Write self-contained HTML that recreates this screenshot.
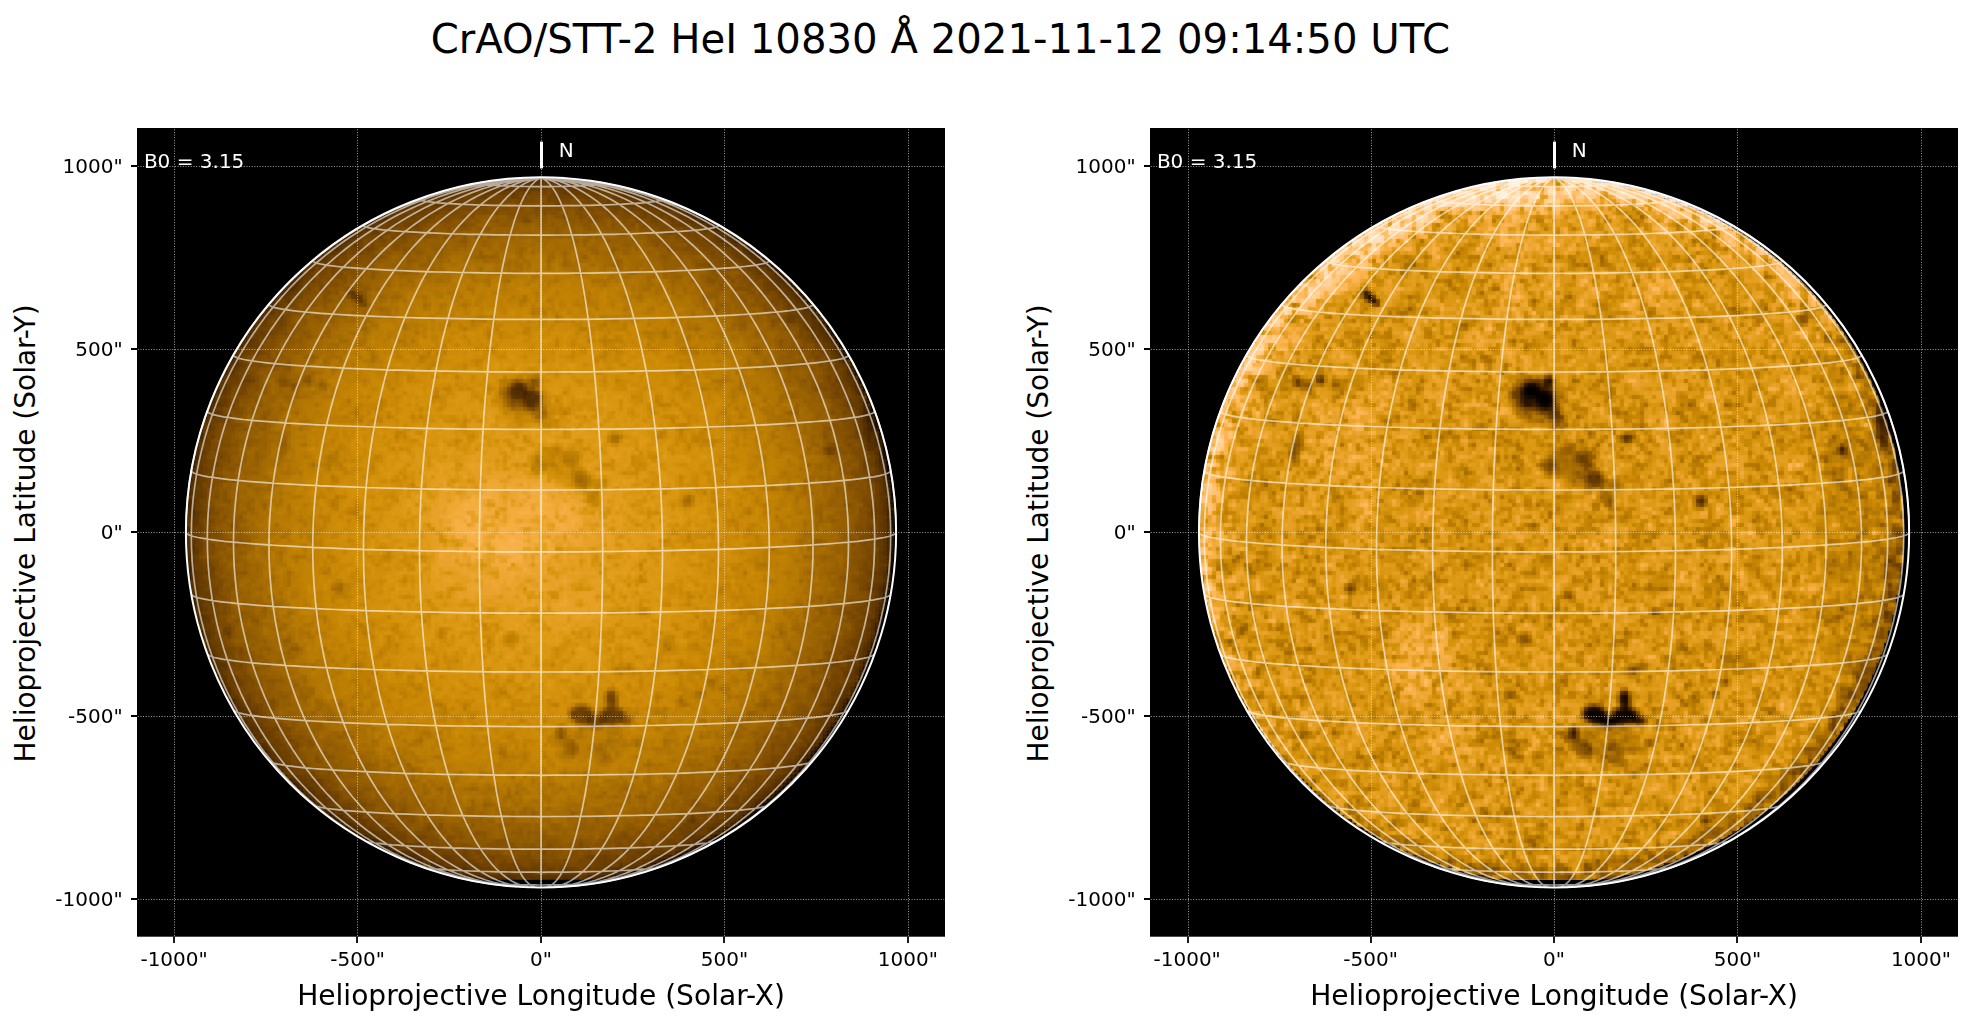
<!DOCTYPE html><html><head><meta charset="utf-8"><title>CrAO/STT-2 HeI 10830</title><style>html,body{margin:0;padding:0;background:#fff}svg{display:block}text{font-family:"DejaVu Sans","Liberation Sans",sans-serif}</style></head><body>
<svg width="1971" height="1026" viewBox="0 0 1971 1026">
<defs>
<radialGradient id="gl" gradientUnits="userSpaceOnUse" cx="538.0" cy="530.4" r="352.5"><stop offset="0.0000" stop-color="#a3a3a3"/><stop offset="0.2000" stop-color="#9e9e9e"/><stop offset="0.4000" stop-color="#969696"/><stop offset="0.5500" stop-color="#8d8d8d"/><stop offset="0.6800" stop-color="#808080"/><stop offset="0.7600" stop-color="#747474"/><stop offset="0.8440" stop-color="#636363"/><stop offset="0.8870" stop-color="#595959"/><stop offset="0.9230" stop-color="#4f4f4f"/><stop offset="0.9570" stop-color="#434343"/><stop offset="0.9740" stop-color="#3b3b3b"/><stop offset="0.9900" stop-color="#303030"/><stop offset="1.0000" stop-color="#262626"/></radialGradient>
<filter id="b1" x="-5%" y="-5%" width="110%" height="110%"><feGaussianBlur stdDeviation="2.5"/></filter>
<filter id="b2" x="-5%" y="-5%" width="110%" height="110%"><feGaussianBlur stdDeviation="2.2"/></filter>
<filter id="b3" x="-5%" y="-5%" width="110%" height="110%"><feGaussianBlur stdDeviation="9"/></filter>
<filter id="nz0" x="0" y="0" width="100%" height="100%" color-interpolation-filters="sRGB"><feTurbulence type="fractalNoise" baseFrequency="0.130" numOctaves="2" seed="7"/><feColorMatrix type="matrix" values="1 0 0 0 0  0 1 0 0 0  0 0 1 0 0  0 0 0 0 1" result="n1"/><feTurbulence type="fractalNoise" baseFrequency="0.04" numOctaves="2" seed="18"/><feColorMatrix type="matrix" values="1 0 0 0 0  0 1 0 0 0  0 0 1 0 0  0 0 0 0 1" result="n2"/><feComposite in="n1" in2="n2" operator="arithmetic" k1="0" k2="0.8" k3="0.5" k4="-0.15" result="n"/><feColorMatrix in="n" type="matrix" values="0 0 0 0 0  0 0 0 0 0  0 0 0 0 0  -0.45 0 0 0 0.225" result="dk"/><feColorMatrix in="n" type="matrix" values="0 0 0 0 1  0 0 0 0 1  0 0 0 0 1  0.20 0 0 0 -0.100" result="br"/><feMerge><feMergeNode in="dk"/><feMergeNode in="br"/></feMerge></filter>
<filter id="px0" filterUnits="userSpaceOnUse" x="179" y="171" width="717" height="717" color-interpolation-filters="sRGB"><feFlood x="180" y="172" width="1" height="1" flood-color="#000" result="dot"/><feComposite in="dot" in2="dot" operator="over" x="179" y="171" width="4" height="4" result="cell"/><feTile in="cell" result="grid"/><feComposite in="SourceGraphic" in2="grid" operator="in" result="samp"/><feMorphology in="samp" operator="dilate" radius="1" result="A"/><feOffset in="A" dx="1" dy="0" result="A1"/><feMerge result="B"><feMergeNode in="A1"/><feMergeNode in="A"/></feMerge><feOffset in="B" dx="0" dy="1" result="B1"/><feMerge result="C"><feMergeNode in="B1"/><feMergeNode in="B"/></feMerge><feGaussianBlur in="C" stdDeviation="0.8" result="D"/><feComposite in="C" in2="D" operator="arithmetic" k1="0" k2="0.55" k3="0.45" k4="0"/><feComponentTransfer><feFuncR type="table" tableValues="0.000 0.078 0.138 0.192 0.242 0.290 0.337 0.382 0.425 0.468 0.510 0.551 0.591 0.631 0.670 0.709 0.747 0.785 0.822 0.859 0.896 0.932 0.968 1.000 1.000 1.000 1.000 1.000 1.000 1.000 1.000 1.000 1.000"/><feFuncG type="table" tableValues="0.000 0.031 0.062 0.094 0.125 0.156 0.188 0.219 0.250 0.281 0.312 0.344 0.375 0.406 0.438 0.469 0.500 0.531 0.562 0.594 0.625 0.656 0.688 0.719 0.750 0.781 0.812 0.844 0.875 0.906 0.938 0.969 1.000"/><feFuncB type="table" tableValues="0.000 0.001 0.002 0.003 0.004 0.005 0.006 0.006 0.007 0.008 0.009 0.010 0.011 0.012 0.013 0.014 0.015 0.017 0.040 0.070 0.132 0.198 0.271 0.344 0.417 0.490 0.562 0.635 0.708 0.781 0.854 0.927 1.000"/></feComponentTransfer></filter>
<clipPath id="dc0"><circle cx="538.0" cy="530.4" r="356.5"/></clipPath>
<clipPath id="lc0"><circle cx="541.0" cy="532.4" r="355.4"/></clipPath>
<clipPath id="bc0"><rect x="179" y="171" width="717" height="708.2"/></clipPath>
<filter id="nz1" x="0" y="0" width="100%" height="100%" color-interpolation-filters="sRGB"><feTurbulence type="fractalNoise" baseFrequency="0.130" numOctaves="2" seed="7"/><feColorMatrix type="matrix" values="1 0 0 0 0  0 1 0 0 0  0 0 1 0 0  0 0 0 0 1" result="n1"/><feTurbulence type="fractalNoise" baseFrequency="0.04" numOctaves="2" seed="18"/><feColorMatrix type="matrix" values="1 0 0 0 0  0 1 0 0 0  0 0 1 0 0  0 0 0 0 1" result="n2"/><feComposite in="n1" in2="n2" operator="arithmetic" k1="0" k2="0.8" k3="0.5" k4="-0.15" result="n"/><feColorMatrix in="n" type="matrix" values="0 0 0 0 0  0 0 0 0 0  0 0 0 0 0  -1.10 0 0 0 0.550" result="dk"/><feColorMatrix in="n" type="matrix" values="0 0 0 0 1  0 0 0 0 1  0 0 0 0 1  0.88 0 0 0 -0.440" result="br"/><feMerge><feMergeNode in="dk"/><feMergeNode in="br"/></feMerge></filter>
<filter id="px1" filterUnits="userSpaceOnUse" x="1192" y="171" width="717" height="717" color-interpolation-filters="sRGB"><feFlood x="1193" y="172" width="1" height="1" flood-color="#000" result="dot"/><feComposite in="dot" in2="dot" operator="over" x="1192" y="171" width="4" height="4" result="cell"/><feTile in="cell" result="grid"/><feComposite in="SourceGraphic" in2="grid" operator="in" result="samp"/><feMorphology in="samp" operator="dilate" radius="1" result="A"/><feOffset in="A" dx="1" dy="0" result="A1"/><feMerge result="B"><feMergeNode in="A1"/><feMergeNode in="A"/></feMerge><feOffset in="B" dx="0" dy="1" result="B1"/><feMerge result="C"><feMergeNode in="B1"/><feMergeNode in="B"/></feMerge><feGaussianBlur in="C" stdDeviation="0.8" result="D"/><feComposite in="C" in2="D" operator="arithmetic" k1="0" k2="0.55" k3="0.45" k4="0"/><feComponentTransfer><feFuncR type="table" tableValues="0.000 0.078 0.138 0.192 0.242 0.290 0.337 0.382 0.425 0.468 0.510 0.551 0.591 0.631 0.670 0.709 0.747 0.785 0.822 0.859 0.896 0.932 0.968 1.000 1.000 1.000 1.000 1.000 1.000 1.000 1.000 1.000 1.000"/><feFuncG type="table" tableValues="0.000 0.031 0.062 0.094 0.125 0.156 0.188 0.219 0.250 0.281 0.312 0.344 0.375 0.406 0.438 0.469 0.500 0.531 0.562 0.594 0.625 0.656 0.688 0.719 0.750 0.781 0.812 0.844 0.875 0.906 0.938 0.969 1.000"/><feFuncB type="table" tableValues="0.000 0.001 0.002 0.003 0.004 0.005 0.006 0.006 0.007 0.008 0.009 0.010 0.011 0.012 0.013 0.014 0.015 0.017 0.040 0.070 0.132 0.198 0.271 0.344 0.417 0.490 0.562 0.635 0.708 0.781 0.854 0.927 1.000"/></feComponentTransfer></filter>
<filter id="nzl" x="0" y="0" width="100%" height="100%" color-interpolation-filters="sRGB"><feTurbulence type="fractalNoise" baseFrequency="0.11" numOctaves="1" seed="23"/><feColorMatrix type="matrix" values="1 0 0 0 0  0 1 0 0 0  0 0 1 0 0  0 0 0 0 1" result="n"/><feColorMatrix in="n" type="matrix" values="0 0 0 0 0  0 0 0 0 0  0 0 0 0 0  -1.8 0 0 0 0.85" result="dk"/><feColorMatrix in="n" type="matrix" values="0 0 0 0 1  0 0 0 0 1  0 0 0 0 1  1.4 0 0 0 -0.7" result="br"/><feMerge><feMergeNode in="dk"/><feMergeNode in="br"/></feMerge></filter>
<radialGradient id="lmg" gradientUnits="userSpaceOnUse" cx="1551.0" cy="530.4" r="352.5"><stop offset="0" stop-color="#000"/><stop offset="0.7" stop-color="#000"/><stop offset="0.9" stop-color="#444"/><stop offset="1" stop-color="#ccc"/></radialGradient>
<mask id="lm" maskUnits="userSpaceOnUse" x="1192" y="171" width="717" height="717"><rect x="1192" y="171" width="717" height="717" fill="url(#lmg)"/></mask>
<mask id="crb" maskUnits="userSpaceOnUse" x="1192" y="171" width="717" height="717"><rect x="1192" y="171" width="717" height="717" fill="#fff"/><circle cx="1558.0" cy="544.4" r="350.5" fill="#000"/></mask>
<mask id="crb2" maskUnits="userSpaceOnUse" x="1192" y="171" width="717" height="717"><rect x="1192" y="171" width="717" height="717" fill="#fff"/><circle cx="1563.0" cy="560.4" r="347.5" fill="#000"/></mask>
<mask id="crd" maskUnits="userSpaceOnUse" x="1192" y="171" width="717" height="717"><rect x="1192" y="171" width="717" height="717" fill="#fff"/><circle cx="1541.0" cy="519.4" r="350.5" fill="#000"/></mask>
<filter id="b4" x="-5%" y="-5%" width="110%" height="110%"><feGaussianBlur stdDeviation="6"/></filter>
<filter id="b5" x="-5%" y="-5%" width="110%" height="110%"><feGaussianBlur stdDeviation="14"/></filter>
<clipPath id="dc1"><circle cx="1551.0" cy="530.4" r="353.5"/></clipPath>
<clipPath id="lc1"><circle cx="1554.0" cy="532.4" r="355.4"/></clipPath>
<clipPath id="bc1"><rect x="1192" y="171" width="717" height="708.2"/></clipPath>
</defs>
<rect width="1971" height="1026" fill="#fff"/>
<text x="940.3" y="52.8" font-size="40.2" text-anchor="middle" fill="#000">CrAO/STT-2 HeI 10830 Å 2021-11-12 09:14:50 UTC</text>
<g id="ax0">
<rect x="137.0" y="128.0" width="808.0" height="808.7" fill="#000"/>
<clipPath id="clip0"><rect x="137.0" y="128.0" width="808.0" height="808.7"/></clipPath>
<g clip-path="url(#bc0)"><g clip-path="url(#lc0)"><g clip-path="url(#dc0)"><g filter="url(#px0)">
<circle cx="538.0" cy="530.4" r="352.5" fill="url(#gl)" filter="url(#b1)"/>
<g filter="url(#b3)"><ellipse cx="515.0" cy="520.0" rx="75.0" ry="45.0" transform="rotate(0 515.0 520.0)" fill="#fff" fill-opacity="0.10"/><ellipse cx="480.0" cy="560.0" rx="50.0" ry="40.0" transform="rotate(0 480.0 560.0)" fill="#fff" fill-opacity="0.08"/><ellipse cx="450.0" cy="500.0" rx="40.0" ry="30.0" transform="rotate(0 450.0 500.0)" fill="#fff" fill-opacity="0.06"/><ellipse cx="560.0" cy="600.0" rx="45.0" ry="25.0" transform="rotate(0 560.0 600.0)" fill="#fff" fill-opacity="0.05"/></g>
<g filter="url(#b2)"><ellipse cx="518.0" cy="390.0" rx="9.5" ry="8.5" transform="rotate(0 518.0 390.0)" fill="#000" fill-opacity="0.56"/><ellipse cx="531.0" cy="399.0" rx="9.5" ry="10.0" transform="rotate(0 531.0 399.0)" fill="#000" fill-opacity="0.56"/><ellipse cx="535.0" cy="381.0" rx="4.5" ry="6.0" transform="rotate(0 535.0 381.0)" fill="#000" fill-opacity="0.40"/><ellipse cx="524.0" cy="396.0" rx="19.0" ry="15.0" transform="rotate(30 524.0 396.0)" fill="#000" fill-opacity="0.24"/><ellipse cx="522.0" cy="400.0" rx="28.0" ry="24.0" transform="rotate(30 522.0 400.0)" fill="#000" fill-opacity="0.11"/><ellipse cx="545.0" cy="420.0" rx="8.0" ry="12.0" transform="rotate(-20 545.0 420.0)" fill="#000" fill-opacity="0.13"/><ellipse cx="512.0" cy="402.0" rx="9.0" ry="7.0" transform="rotate(0 512.0 402.0)" fill="#000" fill-opacity="0.24"/><ellipse cx="538.0" cy="412.0" rx="6.0" ry="8.0" transform="rotate(0 538.0 412.0)" fill="#000" fill-opacity="0.20"/><ellipse cx="505.0" cy="392.0" rx="6.0" ry="6.0" transform="rotate(0 505.0 392.0)" fill="#000" fill-opacity="0.16"/><ellipse cx="613.4" cy="438.3" rx="6.0" ry="5.0" transform="rotate(0 613.4 438.3)" fill="#000" fill-opacity="0.34"/><ellipse cx="571.0" cy="457.0" rx="10.0" ry="9.0" transform="rotate(0 571.0 457.0)" fill="#000" fill-opacity="0.18"/><ellipse cx="582.0" cy="479.0" rx="11.0" ry="8.0" transform="rotate(20 582.0 479.0)" fill="#000" fill-opacity="0.20"/><ellipse cx="536.0" cy="466.0" rx="6.0" ry="11.0" transform="rotate(0 536.0 466.0)" fill="#000" fill-opacity="0.16"/><ellipse cx="593.0" cy="496.0" rx="8.0" ry="7.0" transform="rotate(0 593.0 496.0)" fill="#000" fill-opacity="0.16"/><ellipse cx="562.0" cy="468.0" rx="32.0" ry="15.0" transform="rotate(35 562.0 468.0)" fill="#000" fill-opacity="0.11"/><ellipse cx="600.0" cy="483.0" rx="8.0" ry="5.0" transform="rotate(0 600.0 483.0)" fill="#000" fill-opacity="0.16"/><ellipse cx="556.0" cy="448.0" rx="6.0" ry="5.0" transform="rotate(0 556.0 448.0)" fill="#000" fill-opacity="0.12"/><ellipse cx="687.0" cy="501.0" rx="6.0" ry="6.5" transform="rotate(0 687.0 501.0)" fill="#000" fill-opacity="0.30"/><ellipse cx="520.6" cy="301.8" rx="4.0" ry="4.0" transform="rotate(0 520.6 301.8)" fill="#000" fill-opacity="0.16"/><ellipse cx="475.5" cy="360.5" rx="7.0" ry="4.0" transform="rotate(0 475.5 360.5)" fill="#000" fill-opacity="0.12"/><ellipse cx="658.0" cy="435.0" rx="4.0" ry="5.0" transform="rotate(0 658.0 435.0)" fill="#000" fill-opacity="0.12"/><ellipse cx="653.0" cy="482.0" rx="4.0" ry="4.0" transform="rotate(0 653.0 482.0)" fill="#000" fill-opacity="0.12"/><ellipse cx="357.4" cy="297.7" rx="12.0" ry="4.0" transform="rotate(40 357.4 297.7)" fill="#000" fill-opacity="0.50"/><ellipse cx="285.0" cy="382.3" rx="5.0" ry="4.0" transform="rotate(0 285.0 382.3)" fill="#000" fill-opacity="0.28"/><ellipse cx="307.0" cy="379.6" rx="5.0" ry="5.0" transform="rotate(0 307.0 379.6)" fill="#000" fill-opacity="0.32"/><ellipse cx="294.6" cy="386.0" rx="5.0" ry="3.5" transform="rotate(0 294.6 386.0)" fill="#000" fill-opacity="0.28"/><ellipse cx="322.0" cy="385.0" rx="5.0" ry="3.0" transform="rotate(0 322.0 385.0)" fill="#000" fill-opacity="0.24"/><ellipse cx="245.5" cy="379.6" rx="5.0" ry="5.0" transform="rotate(0 245.5 379.6)" fill="#000" fill-opacity="0.16"/><ellipse cx="281.0" cy="318.0" rx="5.0" ry="5.0" transform="rotate(0 281.0 318.0)" fill="#000" fill-opacity="0.12"/><ellipse cx="283.0" cy="447.0" rx="4.0" ry="20.0" transform="rotate(12 283.0 447.0)" fill="#000" fill-opacity="0.18"/><ellipse cx="581.5" cy="714.0" rx="13.0" ry="9.5" transform="rotate(8 581.5 714.0)" fill="#000" fill-opacity="0.56"/><ellipse cx="611.5" cy="715.0" rx="13.0" ry="9.0" transform="rotate(0 611.5 715.0)" fill="#000" fill-opacity="0.56"/><ellipse cx="611.0" cy="698.0" rx="6.0" ry="9.0" transform="rotate(0 611.0 698.0)" fill="#000" fill-opacity="0.52"/><ellipse cx="596.0" cy="721.0" rx="11.0" ry="6.0" transform="rotate(0 596.0 721.0)" fill="#000" fill-opacity="0.48"/><ellipse cx="626.0" cy="720.0" rx="7.0" ry="5.0" transform="rotate(0 626.0 720.0)" fill="#000" fill-opacity="0.36"/><ellipse cx="560.0" cy="733.0" rx="5.0" ry="8.0" transform="rotate(0 560.0 733.0)" fill="#000" fill-opacity="0.34"/><ellipse cx="570.0" cy="749.0" rx="9.0" ry="8.0" transform="rotate(0 570.0 749.0)" fill="#000" fill-opacity="0.18"/><ellipse cx="598.0" cy="747.0" rx="6.0" ry="4.0" transform="rotate(0 598.0 747.0)" fill="#000" fill-opacity="0.16"/><ellipse cx="636.0" cy="742.0" rx="5.0" ry="3.0" transform="rotate(0 636.0 742.0)" fill="#000" fill-opacity="0.16"/><ellipse cx="604.0" cy="760.0" rx="8.0" ry="5.0" transform="rotate(0 604.0 760.0)" fill="#000" fill-opacity="0.14"/><ellipse cx="595.0" cy="740.0" rx="32.0" ry="18.0" transform="rotate(0 595.0 740.0)" fill="#000" fill-opacity="0.08"/><ellipse cx="691.5" cy="819.0" rx="4.0" ry="4.5" transform="rotate(0 691.5 819.0)" fill="#000" fill-opacity="0.30"/><ellipse cx="441.4" cy="633.7" rx="5.0" ry="4.0" transform="rotate(0 441.4 633.7)" fill="#000" fill-opacity="0.20"/><ellipse cx="511.0" cy="639.0" rx="8.0" ry="6.0" transform="rotate(0 511.0 639.0)" fill="#000" fill-opacity="0.20"/><ellipse cx="554.7" cy="594.0" rx="5.0" ry="5.0" transform="rotate(0 554.7 594.0)" fill="#000" fill-opacity="0.14"/><ellipse cx="642.0" cy="611.9" rx="5.0" ry="3.0" transform="rotate(0 642.0 611.9)" fill="#000" fill-opacity="0.28"/><ellipse cx="669.0" cy="644.6" rx="6.0" ry="6.0" transform="rotate(0 669.0 644.6)" fill="#000" fill-opacity="0.14"/><ellipse cx="694.0" cy="646.0" rx="5.0" ry="5.0" transform="rotate(0 694.0 646.0)" fill="#000" fill-opacity="0.14"/><ellipse cx="623.0" cy="668.0" rx="12.0" ry="4.0" transform="rotate(0 623.0 668.0)" fill="#000" fill-opacity="0.16"/><ellipse cx="711.6" cy="681.5" rx="4.0" ry="4.0" transform="rotate(0 711.6 681.5)" fill="#000" fill-opacity="0.28"/><ellipse cx="700.7" cy="693.7" rx="4.0" ry="4.0" transform="rotate(0 700.7 693.7)" fill="#000" fill-opacity="0.28"/><ellipse cx="680.0" cy="702.0" rx="5.0" ry="4.0" transform="rotate(0 680.0 702.0)" fill="#000" fill-opacity="0.14"/><ellipse cx="500.0" cy="749.7" rx="5.0" ry="5.0" transform="rotate(0 500.0 749.7)" fill="#000" fill-opacity="0.16"/><ellipse cx="524.7" cy="755.0" rx="5.0" ry="5.0" transform="rotate(0 524.7 755.0)" fill="#000" fill-opacity="0.14"/><ellipse cx="497.0" cy="694.0" rx="6.0" ry="5.0" transform="rotate(0 497.0 694.0)" fill="#000" fill-opacity="0.12"/><ellipse cx="636.6" cy="743.0" rx="6.0" ry="4.0" transform="rotate(0 636.6 743.0)" fill="#000" fill-opacity="0.12"/><ellipse cx="829.2" cy="450.0" rx="4.5" ry="5.5" transform="rotate(0 829.2 450.0)" fill="#000" fill-opacity="0.36"/><ellipse cx="812.8" cy="337.0" rx="5.0" ry="5.0" transform="rotate(0 812.8 337.0)" fill="#000" fill-opacity="0.16"/><ellipse cx="868.0" cy="428.0" rx="6.0" ry="22.0" transform="rotate(-8 868.0 428.0)" fill="#000" fill-opacity="0.28"/><ellipse cx="228.0" cy="630.0" rx="5.0" ry="6.0" transform="rotate(0 228.0 630.0)" fill="#000" fill-opacity="0.20"/><ellipse cx="790.0" cy="318.0" rx="6.0" ry="5.0" transform="rotate(0 790.0 318.0)" fill="#000" fill-opacity="0.16"/><ellipse cx="337.5" cy="587.7" rx="6.0" ry="5.0" transform="rotate(0 337.5 587.7)" fill="#000" fill-opacity="0.24"/><ellipse cx="296.0" cy="649.0" rx="6.0" ry="4.0" transform="rotate(0 296.0 649.0)" fill="#000" fill-opacity="0.16"/><ellipse cx="469.0" cy="811.0" rx="5.0" ry="4.0" transform="rotate(0 469.0 811.0)" fill="#000" fill-opacity="0.12"/><ellipse cx="213.0" cy="566.0" rx="5.0" ry="5.0" transform="rotate(0 213.0 566.0)" fill="#000" fill-opacity="0.12"/><ellipse cx="674.0" cy="276.0" rx="5.0" ry="4.0" transform="rotate(0 674.0 276.0)" fill="#000" fill-opacity="0.10"/><ellipse cx="716.0" cy="309.0" rx="5.0" ry="4.0" transform="rotate(0 716.0 309.0)" fill="#000" fill-opacity="0.10"/></g>
<g clip-path="url(#dc0)"><rect x="179" y="171" width="717" height="717" fill="#888" filter="url(#nz0)"/></g>
</g></g></g></g>
<path d="M174.50,935.9V128.8M137.8,899.50H944.2M357.50,935.9V128.8M137.8,716.50H944.2M541.50,935.9V128.8M137.8,532.50H944.2M724.50,935.9V128.8M137.8,349.50H944.2M908.50,935.9V128.8M137.8,166.50H944.2" stroke="#fff" stroke-opacity="0.62" stroke-width="1" stroke-dasharray="1 1.65" fill="none"/>
<path d="M185.9,532.4L186.1,520.0L186.8,507.7L187.8,495.3L189.4,483.1L191.3,470.8L193.7,458.7L196.4,446.6L199.7,434.7L203.3,422.8L207.3,411.1L211.8,399.6L216.6,388.2L221.8,377.0L227.5,365.9L233.5,355.1L239.9,344.5L246.6,334.1L253.7,324.0L261.2,314.1L269.0,304.5L277.1,295.2L285.6,286.1L294.3,277.3L303.4,268.9L312.7,260.8L322.4,253.0L332.3,245.6L342.4,238.5L352.8,231.7L363.4,225.3L374.3,219.3L385.3,213.7L396.6,208.5L408.0,203.7L419.5,199.2L431.3,195.2L443.1,191.6L455.1,188.4L467.2,185.6L479.3,183.2L491.6,181.3L503.9,179.8L516.2,178.7L528.6,178.1L541.0,177.8M432.9,870.7L421.4,866.7L410.0,862.4L398.8,857.7L387.7,852.6L376.8,847.1L366.1,841.2L355.7,834.9L345.4,828.2L335.4,821.2L325.7,813.9L316.2,806.2L307.0,798.2L298.1,789.8L289.4,781.1L281.1,772.2L273.1,762.9L265.4,753.4L258.1,743.5L251.1,733.5L244.4,723.2L238.1,712.6L232.2,701.8L226.7,690.9L221.5,679.7L216.8,668.4L212.4,656.9L208.4,645.2L204.8,633.4L201.7,621.5L198.9,609.4L196.6,597.3L194.7,585.1L193.2,572.8L192.1,560.5L191.5,548.2L191.3,535.8L191.5,523.4L192.1,511.0L193.2,498.7L194.7,486.4L196.6,474.2L198.9,462.0L201.7,449.9L204.8,437.9L208.4,426.1L212.4,414.3L216.8,402.7L221.5,391.3L226.7,380.0L232.2,368.9L238.1,358.1L244.4,347.4L251.1,336.9L258.1,326.7L265.4,316.8L273.1,307.1L281.1,297.7L289.4,288.5L298.1,279.7L307.0,271.2L316.2,263.0L325.7,255.1L335.4,247.5L345.4,240.3L355.7,233.5L366.1,227.0L376.8,220.9L387.7,215.2L398.8,209.9L410.0,204.9L421.4,200.4L432.9,196.2L444.6,192.5L456.4,189.2L468.3,186.3L480.3,183.8L492.3,181.8L504.4,180.1L516.6,178.9L528.8,178.2L541.0,177.8M483.1,882.7L471.6,880.6L460.3,878.0L449.0,875.1L437.9,871.7L426.9,867.9L416.0,863.6L405.3,859.0L394.7,854.0L384.3,848.6L374.2,842.8L364.2,836.6L354.4,830.1L344.9,823.2L335.6,815.9L326.5,808.3L317.7,800.4L309.2,792.1L301.0,783.5L293.0,774.6L285.4,765.4L278.1,756.0L271.0,746.2L264.4,736.2L258.0,725.9L252.0,715.5L246.4,704.8L241.1,693.8L236.2,682.7L231.6,671.4L227.4,659.9L223.6,648.3L220.2,636.5L217.2,624.7L214.6,612.6L212.4,600.5L210.6,588.4L209.1,576.1L208.1,563.8L207.5,551.4L207.3,539.1L207.5,526.7L208.1,514.3L209.1,502.0L210.6,489.7L212.4,477.4L214.6,465.2L217.2,453.1L220.2,441.1L223.6,429.2L227.4,417.4L231.6,405.8L236.2,394.3L241.1,383.0L246.4,371.8L252.0,360.9L258.0,350.2L264.4,339.7L271.0,329.4L278.1,319.4L285.4,309.6L293.0,300.1L301.0,290.9L309.2,282.0L317.7,273.4L326.5,265.1L335.6,257.1L344.9,249.5L354.4,242.2L364.2,235.2L374.2,228.7L384.3,222.5L394.7,216.6L405.3,211.2L416.0,206.2L426.9,201.5L437.9,197.3L449.0,193.4L460.3,190.0L471.6,187.0L483.1,184.4L494.6,182.2L506.1,180.5L517.7,179.2L529.4,178.3L541.0,177.8M498.2,884.9L487.6,883.3L477.1,881.2L466.6,878.8L456.2,875.9L446.0,872.6L435.8,868.9L425.8,864.8L415.9,860.3L406.2,855.4L396.6,850.0L387.2,844.3L378.0,838.3L369.0,831.8L360.2,825.0L351.7,817.8L343.3,810.3L335.2,802.4L327.4,794.2L319.8,785.7L312.5,776.9L305.4,767.8L298.7,758.4L292.2,748.7L286.0,738.8L280.2,728.6L274.7,718.1L269.5,707.5L264.6,696.6L260.1,685.5L255.9,674.3L252.0,662.8L248.5,651.2L245.4,639.5L242.6,627.6L240.2,615.7L238.1,603.6L236.5,591.4L235.2,579.2L234.2,566.9L233.7,554.5L233.5,542.2L233.7,529.8L234.2,517.4L235.2,505.0L236.5,492.7L238.1,480.4L240.2,468.2L242.6,456.1L245.4,444.0L248.5,432.1L252.0,420.3L255.9,408.6L260.1,397.1L264.6,385.7L269.5,374.6L274.7,363.6L280.2,352.8L286.0,342.2L292.2,331.9L298.7,321.8L305.4,312.0L312.5,302.4L319.8,293.1L327.4,284.1L335.2,275.4L343.3,267.1L351.7,259.0L360.2,251.3L369.0,243.9L378.0,236.9L387.2,230.2L396.6,223.9L406.2,218.0L415.9,212.5L425.8,207.3L435.8,202.6L446.0,198.2L456.2,194.3L466.6,190.7L477.1,187.6L487.6,184.9L498.2,182.6L508.9,180.8L519.5,179.4L530.3,178.4L541.0,177.8M512.6,886.3L503.1,885.3L493.8,883.8L484.4,881.8L475.2,879.5L466.0,876.7L456.9,873.5L448.0,869.9L439.1,865.8L430.4,861.4L421.8,856.6L413.3,851.3L405.0,845.7L396.9,839.7L388.9,833.4L381.1,826.6L373.5,819.5L366.1,812.1L359.0,804.3L352.0,796.2L345.3,787.7L338.8,779.0L332.6,769.9L326.6,760.6L320.9,751.0L315.5,741.1L310.3,730.9L305.4,720.5L300.8,709.9L296.5,699.1L292.5,688.1L288.8,676.9L285.4,665.5L282.3,653.9L279.5,642.2L277.1,630.3L274.9,618.4L273.1,606.3L271.6,594.2L270.5,581.9L269.6,569.6L269.1,557.3L269.0,544.9L269.1,532.6L269.6,520.2L270.5,507.8L271.6,495.5L273.1,483.2L274.9,471.0L277.1,458.8L279.5,446.7L282.3,434.8L285.4,422.9L288.8,411.2L292.5,399.6L296.5,388.2L300.8,377.0L305.4,366.0L310.3,355.1L315.5,344.5L320.9,334.1L326.6,324.0L332.6,314.1L338.8,304.5L345.3,295.1L352.0,286.1L359.0,277.3L366.1,268.9L373.5,260.7L381.1,252.9L388.9,245.5L396.9,238.4L405.0,231.6L413.3,225.2L421.8,219.2L430.4,213.6L439.1,208.4L448.0,203.5L456.9,199.1L466.0,195.0L475.2,191.4L484.4,188.2L493.8,185.4L503.1,183.0L512.6,181.1L522.0,179.6L531.5,178.5L541.0,177.8M517.1,886.6L509.2,885.6L501.4,884.2L493.5,882.3L485.8,880.0L478.1,877.3L470.5,874.2L462.9,870.7L455.5,866.7L448.2,862.4L440.9,857.6L433.8,852.5L426.9,846.9L420.0,841.0L413.4,834.7L406.8,828.0L400.5,821.0L394.3,813.6L388.3,805.9L382.4,797.8L376.8,789.5L371.4,780.8L366.1,771.8L361.1,762.5L356.3,752.9L351.8,743.1L347.4,733.0L343.3,722.6L339.5,712.1L335.8,701.3L332.5,690.3L329.4,679.1L326.5,667.7L323.9,656.2L321.6,644.5L319.5,632.7L317.7,620.7L316.2,608.7L315.0,596.5L314.0,584.3L313.3,572.0L312.9,559.7L312.7,547.3L312.9,535.0L313.3,522.6L314.0,510.2L315.0,497.9L316.2,485.6L317.7,473.3L319.5,461.1L321.6,449.0L323.9,437.0L326.5,425.2L329.4,413.4L332.5,401.8L335.8,390.4L339.5,379.1L343.3,368.1L347.4,357.2L351.8,346.5L356.3,336.1L361.1,325.9L366.1,315.9L371.4,306.3L376.8,296.9L382.4,287.7L388.3,278.9L394.3,270.4L400.5,262.2L406.8,254.3L413.4,246.8L420.0,239.6L426.9,232.8L433.8,226.4L440.9,220.3L448.2,214.6L455.5,209.3L462.9,204.3L470.5,199.8L478.1,195.7L485.8,192.0L493.5,188.7L501.4,185.8L509.2,183.4L517.1,181.3L525.1,179.7L533.0,178.6L541.0,177.8M528.6,887.3L522.4,886.8L516.3,885.9L510.2,884.5L504.1,882.7L498.0,880.5L492.1,877.9L486.1,874.8L480.3,871.4L474.5,867.5L468.8,863.2L463.2,858.5L457.6,853.4L452.2,847.9L446.9,842.0L441.7,835.8L436.6,829.2L431.7,822.2L426.9,814.9L422.2,807.2L417.7,799.2L413.3,790.9L409.1,782.2L405.0,773.3L401.1,764.0L397.4,754.5L393.8,744.7L390.4,734.6L387.2,724.3L384.2,713.8L381.4,703.0L378.8,692.1L376.4,680.9L374.2,669.5L372.1,658.0L370.3,646.4L368.7,634.6L367.3,622.6L366.1,610.6L365.2,598.5L364.4,586.3L363.9,574.0L363.6,561.7L363.5,549.3L363.6,536.9L363.9,524.5L364.4,512.1L365.2,499.8L366.1,487.5L367.3,475.2L368.7,463.0L370.3,450.9L372.1,438.9L374.2,427.0L376.4,415.2L378.8,403.6L381.4,392.2L384.2,380.9L387.2,369.8L390.4,358.8L393.8,348.1L397.4,337.7L401.1,327.4L405.0,317.4L409.1,307.7L413.3,298.3L417.7,289.1L422.2,280.2L426.9,271.7L431.7,263.4L436.6,255.5L441.7,247.9L446.9,240.7L452.2,233.8L457.6,227.3L463.2,221.1L468.8,215.4L474.5,210.0L480.3,205.0L486.1,200.4L492.1,196.2L498.0,192.5L504.1,189.1L510.2,186.2L516.3,183.6L522.4,181.5L528.6,179.9L534.8,178.6L541.0,177.8M532.5,887.4L528.3,886.9L524.1,886.1L519.9,884.8L515.7,883.0L511.6,880.9L507.5,878.3L503.5,875.3L499.5,871.9L495.5,868.0L491.6,863.8L487.8,859.1L484.0,854.1L480.3,848.6L476.6,842.8L473.1,836.6L469.6,830.0L466.2,823.1L462.9,815.8L459.7,808.2L456.6,800.2L453.6,791.9L450.7,783.3L448.0,774.4L445.3,765.1L442.7,755.6L440.3,745.9L438.0,735.8L435.8,725.6L433.8,715.0L431.8,704.3L430.0,693.4L428.4,682.2L426.9,670.9L425.5,659.4L424.3,647.8L423.2,636.0L422.2,624.1L421.4,612.0L420.7,599.9L420.2,587.7L419.8,575.4L419.6,563.1L419.5,550.7L419.6,538.4L419.8,526.0L420.2,513.6L420.7,501.2L421.4,488.9L422.2,476.6L423.2,464.4L424.3,452.3L425.5,440.3L426.9,428.4L428.4,416.6L430.0,404.9L431.8,393.4L433.8,382.1L435.8,371.0L438.0,360.1L440.3,349.3L442.7,338.8L445.3,328.6L448.0,318.5L450.7,308.8L453.6,299.3L456.6,290.1L459.7,281.2L462.9,272.6L466.2,264.3L469.6,256.3L473.1,248.7L476.6,241.4L480.3,234.5L484.0,227.9L487.8,221.8L491.6,215.9L495.5,210.5L499.5,205.5L503.5,200.9L507.5,196.6L511.6,192.8L515.7,189.4L519.9,186.4L524.1,183.8L528.3,181.7L532.5,180.0L536.8,178.7L541.0,177.8M536.7,887.4L534.6,887.0L532.4,886.2L530.3,884.9L528.2,883.2L526.1,881.1L524.0,878.5L521.9,875.5L519.9,872.2L517.9,868.3L515.9,864.1L514.0,859.5L512.1,854.5L510.2,849.1L508.3,843.3L506.5,837.1L504.8,830.5L503.0,823.6L501.4,816.4L499.7,808.8L498.2,800.8L496.6,792.5L495.2,783.9L493.8,775.0L492.4,765.8L491.1,756.4L489.9,746.6L488.7,736.6L487.6,726.3L486.6,715.8L485.6,705.1L484.7,694.2L483.8,683.0L483.1,671.7L482.4,660.2L481.7,648.6L481.2,636.8L480.7,624.9L480.3,612.9L479.9,600.8L479.7,588.6L479.5,576.3L479.4,564.0L479.3,551.6L479.4,539.2L479.5,526.8L479.7,514.4L479.9,502.1L480.3,489.8L480.7,477.5L481.2,465.3L481.7,453.1L482.4,441.1L483.1,429.2L483.8,417.4L484.7,405.7L485.6,394.2L486.6,382.9L487.6,371.8L488.7,360.8L489.9,350.1L491.1,339.5L492.4,329.3L493.8,319.2L495.2,309.4L496.6,299.9L498.2,290.7L499.7,281.8L501.4,273.1L503.0,264.8L504.8,256.8L506.5,249.2L508.3,241.9L510.2,234.9L512.1,228.4L514.0,222.1L515.9,216.3L517.9,210.9L519.9,205.8L521.9,201.1L524.0,196.9L526.1,193.0L528.2,189.6L530.3,186.6L532.4,184.0L534.6,181.8L536.7,180.0L538.8,178.7L541.0,177.8M541.0,887.5L541.0,887.1L541.0,886.2L541.0,885.0L541.0,883.3L541.0,881.2L541.0,878.6L541.0,875.6L541.0,872.3L541.0,868.5L541.0,864.2L541.0,859.6L541.0,854.6L541.0,849.2L541.0,843.4L541.0,837.3L541.0,830.7L541.0,823.8L541.0,816.6L541.0,808.9L541.0,801.0L541.0,792.7L541.0,784.2L541.0,775.3L541.0,766.1L541.0,756.6L541.0,746.8L541.0,736.8L541.0,726.6L541.0,716.1L541.0,705.4L541.0,694.4L541.0,683.3L541.0,672.0L541.0,660.5L541.0,648.9L541.0,637.1L541.0,625.2L541.0,613.2L541.0,601.1L541.0,588.9L541.0,576.6L541.0,564.3L541.0,551.9L541.0,539.5L541.0,527.1L541.0,514.7L541.0,502.4L541.0,490.0L541.0,477.8L541.0,465.6L541.0,453.4L541.0,441.4L541.0,429.5L541.0,417.7L541.0,406.0L541.0,394.5L541.0,383.2L541.0,372.0L541.0,361.1L541.0,350.3L541.0,339.8L541.0,329.5L541.0,319.4L541.0,309.7L541.0,300.1L541.0,290.9L541.0,282.0L541.0,273.3L541.0,265.0L541.0,257.0L541.0,249.4L541.0,242.1L541.0,235.1L541.0,228.5L541.0,222.3L541.0,216.4L541.0,211.0L541.0,205.9L541.0,201.2L541.0,197.0L541.0,193.1L541.0,189.6L541.0,186.6L541.0,184.0L541.0,181.8L541.0,180.1L541.0,178.7L541.0,177.8M545.3,887.4L547.4,887.0L549.6,886.2L551.7,884.9L553.8,883.2L555.9,881.1L558.0,878.5L560.1,875.5L562.1,872.2L564.1,868.3L566.1,864.1L568.0,859.5L569.9,854.5L571.8,849.1L573.7,843.3L575.5,837.1L577.2,830.5L579.0,823.6L580.6,816.4L582.3,808.8L583.8,800.8L585.4,792.5L586.8,783.9L588.2,775.0L589.6,765.8L590.9,756.4L592.1,746.6L593.3,736.6L594.4,726.3L595.4,715.8L596.4,705.1L597.3,694.2L598.2,683.0L598.9,671.7L599.6,660.2L600.3,648.6L600.8,636.8L601.3,624.9L601.7,612.9L602.1,600.8L602.3,588.6L602.5,576.3L602.6,564.0L602.7,551.6L602.6,539.2L602.5,526.8L602.3,514.4L602.1,502.1L601.7,489.8L601.3,477.5L600.8,465.3L600.3,453.1L599.6,441.1L598.9,429.2L598.2,417.4L597.3,405.7L596.4,394.2L595.4,382.9L594.4,371.8L593.3,360.8L592.1,350.1L590.9,339.5L589.6,329.3L588.2,319.2L586.8,309.4L585.4,299.9L583.8,290.7L582.3,281.8L580.6,273.1L579.0,264.8L577.2,256.8L575.5,249.2L573.7,241.9L571.8,234.9L569.9,228.4L568.0,222.1L566.1,216.3L564.1,210.9L562.1,205.8L560.1,201.1L558.0,196.9L555.9,193.0L553.8,189.6L551.7,186.6L549.6,184.0L547.4,181.8L545.3,180.0L543.2,178.7L541.0,177.8M549.5,887.4L553.7,886.9L557.9,886.1L562.1,884.8L566.3,883.0L570.4,880.9L574.5,878.3L578.5,875.3L582.5,871.9L586.5,868.0L590.4,863.8L594.2,859.1L598.0,854.1L601.7,848.6L605.4,842.8L608.9,836.6L612.4,830.0L615.8,823.1L619.1,815.8L622.3,808.2L625.4,800.2L628.4,791.9L631.3,783.3L634.0,774.4L636.7,765.1L639.3,755.6L641.7,745.9L644.0,735.8L646.2,725.6L648.2,715.0L650.2,704.3L652.0,693.4L653.6,682.2L655.1,670.9L656.5,659.4L657.7,647.8L658.8,636.0L659.8,624.1L660.6,612.0L661.3,599.9L661.8,587.7L662.2,575.4L662.4,563.1L662.5,550.7L662.4,538.4L662.2,526.0L661.8,513.6L661.3,501.2L660.6,488.9L659.8,476.6L658.8,464.4L657.7,452.3L656.5,440.3L655.1,428.4L653.6,416.6L652.0,404.9L650.2,393.4L648.2,382.1L646.2,371.0L644.0,360.1L641.7,349.3L639.3,338.8L636.7,328.6L634.0,318.5L631.3,308.8L628.4,299.3L625.4,290.1L622.3,281.2L619.1,272.6L615.8,264.3L612.4,256.3L608.9,248.7L605.4,241.4L601.7,234.5L598.0,227.9L594.2,221.8L590.4,215.9L586.5,210.5L582.5,205.5L578.5,200.9L574.5,196.6L570.4,192.8L566.3,189.4L562.1,186.4L557.9,183.8L553.7,181.7L549.5,180.0L545.2,178.7L541.0,177.8M553.4,887.3L559.6,886.8L565.7,885.9L571.8,884.5L577.9,882.7L584.0,880.5L589.9,877.9L595.9,874.8L601.7,871.4L607.5,867.5L613.2,863.2L618.8,858.5L624.4,853.4L629.8,847.9L635.1,842.0L640.3,835.8L645.4,829.2L650.3,822.2L655.1,814.9L659.8,807.2L664.3,799.2L668.7,790.9L672.9,782.2L677.0,773.3L680.9,764.0L684.6,754.5L688.2,744.7L691.6,734.6L694.8,724.3L697.8,713.8L700.6,703.0L703.2,692.1L705.6,680.9L707.8,669.5L709.9,658.0L711.7,646.4L713.3,634.6L714.7,622.6L715.9,610.6L716.8,598.5L717.6,586.3L718.1,574.0L718.4,561.7L718.5,549.3L718.4,536.9L718.1,524.5L717.6,512.1L716.8,499.8L715.9,487.5L714.7,475.2L713.3,463.0L711.7,450.9L709.9,438.9L707.8,427.0L705.6,415.2L703.2,403.6L700.6,392.2L697.8,380.9L694.8,369.8L691.6,358.8L688.2,348.1L684.6,337.7L680.9,327.4L677.0,317.4L672.9,307.7L668.7,298.3L664.3,289.1L659.8,280.2L655.1,271.7L650.3,263.4L645.4,255.5L640.3,247.9L635.1,240.7L629.8,233.8L624.4,227.3L618.8,221.1L613.2,215.4L607.5,210.0L601.7,205.0L595.9,200.4L589.9,196.2L584.0,192.5L577.9,189.1L571.8,186.2L565.7,183.6L559.6,181.5L553.4,179.9L547.2,178.6L541.0,177.8M564.9,886.6L572.8,885.6L580.6,884.2L588.5,882.3L596.2,880.0L603.9,877.3L611.5,874.2L619.1,870.7L626.5,866.7L633.8,862.4L641.1,857.6L648.2,852.5L655.1,846.9L662.0,841.0L668.6,834.7L675.2,828.0L681.5,821.0L687.7,813.6L693.7,805.9L699.6,797.8L705.2,789.5L710.6,780.8L715.9,771.8L720.9,762.5L725.7,752.9L730.2,743.1L734.6,733.0L738.7,722.6L742.5,712.1L746.2,701.3L749.5,690.3L752.6,679.1L755.5,667.7L758.1,656.2L760.4,644.5L762.5,632.7L764.3,620.7L765.8,608.7L767.0,596.5L768.0,584.3L768.7,572.0L769.1,559.7L769.3,547.3L769.1,535.0L768.7,522.6L768.0,510.2L767.0,497.9L765.8,485.6L764.3,473.3L762.5,461.1L760.4,449.0L758.1,437.0L755.5,425.2L752.6,413.4L749.5,401.8L746.2,390.4L742.5,379.1L738.7,368.1L734.6,357.2L730.2,346.5L725.7,336.1L720.9,325.9L715.9,315.9L710.6,306.3L705.2,296.9L699.6,287.7L693.7,278.9L687.7,270.4L681.5,262.2L675.2,254.3L668.6,246.8L662.0,239.6L655.1,232.8L648.2,226.4L641.1,220.3L633.8,214.6L626.5,209.3L619.1,204.3L611.5,199.8L603.9,195.7L596.2,192.0L588.5,188.7L580.6,185.8L572.8,183.4L564.9,181.3L556.9,179.7L549.0,178.6L541.0,177.8M569.4,886.3L578.9,885.3L588.2,883.8L597.6,881.8L606.8,879.5L616.0,876.7L625.1,873.5L634.0,869.9L642.9,865.8L651.6,861.4L660.2,856.6L668.7,851.3L677.0,845.7L685.1,839.7L693.1,833.4L700.9,826.6L708.5,819.5L715.9,812.1L723.0,804.3L730.0,796.2L736.7,787.7L743.2,779.0L749.4,769.9L755.4,760.6L761.1,751.0L766.5,741.1L771.7,730.9L776.6,720.5L781.2,709.9L785.5,699.1L789.5,688.1L793.2,676.9L796.6,665.5L799.7,653.9L802.5,642.2L804.9,630.3L807.1,618.4L808.9,606.3L810.4,594.2L811.5,581.9L812.4,569.6L812.9,557.3L813.0,544.9L812.9,532.6L812.4,520.2L811.5,507.8L810.4,495.5L808.9,483.2L807.1,471.0L804.9,458.8L802.5,446.7L799.7,434.8L796.6,422.9L793.2,411.2L789.5,399.6L785.5,388.2L781.2,377.0L776.6,366.0L771.7,355.1L766.5,344.5L761.1,334.1L755.4,324.0L749.4,314.1L743.2,304.5L736.7,295.1L730.0,286.1L723.0,277.3L715.9,268.9L708.5,260.7L700.9,252.9L693.1,245.5L685.1,238.4L677.0,231.6L668.7,225.2L660.2,219.2L651.6,213.6L642.9,208.4L634.0,203.5L625.1,199.1L616.0,195.0L606.8,191.4L597.6,188.2L588.2,185.4L578.9,183.0L569.4,181.1L560.0,179.6L550.5,178.5L541.0,177.8M583.8,884.9L594.4,883.3L604.9,881.2L615.4,878.8L625.8,875.9L636.0,872.6L646.2,868.9L656.2,864.8L666.1,860.3L675.8,855.4L685.4,850.0L694.8,844.3L704.0,838.3L713.0,831.8L721.8,825.0L730.3,817.8L738.7,810.3L746.8,802.4L754.6,794.2L762.2,785.7L769.5,776.9L776.6,767.8L783.3,758.4L789.8,748.7L796.0,738.8L801.8,728.6L807.3,718.1L812.5,707.5L817.4,696.6L821.9,685.5L826.1,674.3L830.0,662.8L833.5,651.2L836.6,639.5L839.4,627.6L841.8,615.7L843.9,603.6L845.5,591.4L846.8,579.2L847.8,566.9L848.3,554.5L848.5,542.2L848.3,529.8L847.8,517.4L846.8,505.0L845.5,492.7L843.9,480.4L841.8,468.2L839.4,456.1L836.6,444.0L833.5,432.1L830.0,420.3L826.1,408.6L821.9,397.1L817.4,385.7L812.5,374.6L807.3,363.6L801.8,352.8L796.0,342.2L789.8,331.9L783.3,321.8L776.6,312.0L769.5,302.4L762.2,293.1L754.6,284.1L746.8,275.4L738.7,267.1L730.3,259.0L721.8,251.3L713.0,243.9L704.0,236.9L694.8,230.2L685.4,223.9L675.8,218.0L666.1,212.5L656.2,207.3L646.2,202.6L636.0,198.2L625.8,194.3L615.4,190.7L604.9,187.6L594.4,184.9L583.8,182.6L573.1,180.8L562.5,179.4L551.7,178.4L541.0,177.8M598.9,882.7L610.4,880.6L621.7,878.0L633.0,875.1L644.1,871.7L655.1,867.9L666.0,863.6L676.7,859.0L687.3,854.0L697.7,848.6L707.8,842.8L717.8,836.6L727.6,830.1L737.1,823.2L746.4,815.9L755.5,808.3L764.3,800.4L772.8,792.1L781.0,783.5L789.0,774.6L796.6,765.4L803.9,756.0L811.0,746.2L817.6,736.2L824.0,725.9L830.0,715.5L835.6,704.8L840.9,693.8L845.8,682.7L850.4,671.4L854.6,659.9L858.4,648.3L861.8,636.5L864.8,624.7L867.4,612.6L869.6,600.5L871.4,588.4L872.9,576.1L873.9,563.8L874.5,551.4L874.7,539.1L874.5,526.7L873.9,514.3L872.9,502.0L871.4,489.7L869.6,477.4L867.4,465.2L864.8,453.1L861.8,441.1L858.4,429.2L854.6,417.4L850.4,405.8L845.8,394.3L840.9,383.0L835.6,371.8L830.0,360.9L824.0,350.2L817.6,339.7L811.0,329.4L803.9,319.4L796.6,309.6L789.0,300.1L781.0,290.9L772.8,282.0L764.3,273.4L755.5,265.1L746.4,257.1L737.1,249.5L727.6,242.2L717.8,235.2L707.8,228.7L697.7,222.5L687.3,216.6L676.7,211.2L666.0,206.2L655.1,201.5L644.1,197.3L633.0,193.4L621.7,190.0L610.4,187.0L598.9,184.4L587.4,182.2L575.9,180.5L564.3,179.2L552.6,178.3L541.0,177.8M649.1,870.7L660.6,866.7L672.0,862.4L683.2,857.7L694.3,852.6L705.2,847.1L715.9,841.2L726.3,834.9L736.6,828.2L746.6,821.2L756.3,813.9L765.8,806.2L775.0,798.2L783.9,789.8L792.6,781.1L800.9,772.2L808.9,762.9L816.6,753.4L823.9,743.5L830.9,733.5L837.6,723.2L843.9,712.6L849.8,701.8L855.3,690.9L860.5,679.7L865.2,668.4L869.6,656.9L873.6,645.2L877.2,633.4L880.3,621.5L883.1,609.4L885.4,597.3L887.3,585.1L888.8,572.8L889.9,560.5L890.5,548.2L890.7,535.8L890.5,523.4L889.9,511.0L888.8,498.7L887.3,486.4L885.4,474.2L883.1,462.0L880.3,449.9L877.2,437.9L873.6,426.1L869.6,414.3L865.2,402.7L860.5,391.3L855.3,380.0L849.8,368.9L843.9,358.1L837.6,347.4L830.9,336.9L823.9,326.7L816.6,316.8L808.9,307.1L800.9,297.7L792.6,288.5L783.9,279.7L775.0,271.2L765.8,263.0L756.3,255.1L746.6,247.5L736.6,240.3L726.3,233.5L715.9,227.0L705.2,220.9L694.3,215.2L683.2,209.9L672.0,204.9L660.6,200.4L649.1,196.2L637.4,192.5L625.6,189.2L613.7,186.3L601.7,183.8L589.7,181.8L577.6,180.1L565.4,178.9L553.2,178.2L541.0,177.8M896.1,532.4L895.9,520.0L895.2,507.7L894.2,495.3L892.6,483.1L890.7,470.8L888.3,458.7L885.6,446.6L882.3,434.7L878.7,422.8L874.7,411.1L870.2,399.6L865.4,388.2L860.2,377.0L854.5,365.9L848.5,355.1L842.1,344.5L835.4,334.1L828.3,324.0L820.8,314.1L813.0,304.5L804.9,295.2L796.4,286.1L787.7,277.3L778.6,268.9L769.3,260.8L759.6,253.0L749.7,245.6L739.6,238.5L729.2,231.7L718.6,225.3L707.7,219.3L696.7,213.7L685.4,208.5L674.0,203.7L662.5,199.2L650.7,195.2L638.9,191.6L626.9,188.4L614.8,185.6L602.7,183.2L590.4,181.3L578.1,179.8L565.8,178.7L553.4,178.1L541.0,177.8M483.4,882.8L484.7,883.0L486.1,883.1L487.6,883.3L489.3,883.4L491.1,883.6L493.1,883.7L495.2,883.8L497.4,884.0L499.7,884.1L502.2,884.2L504.8,884.3L507.4,884.4L510.2,884.5L513.0,884.6L515.9,884.7L518.9,884.7L521.9,884.8L525.0,884.8L528.2,884.9L531.4,884.9L534.6,884.9L537.8,885.0L541.0,885.0L544.2,885.0L547.4,884.9L550.6,884.9L553.8,884.9L557.0,884.8L560.1,884.8L563.1,884.7L566.1,884.7L569.0,884.6L571.8,884.5L574.6,884.4L577.2,884.3L579.8,884.2L582.3,884.1L584.6,884.0L586.8,883.8L588.9,883.7L590.9,883.6L592.7,883.4L594.4,883.3L595.9,883.1L597.3,883.0L598.6,882.8M421.0,866.6L422.2,867.0L423.7,867.3L425.5,867.6L427.6,868.0L430.0,868.3L432.8,868.6L435.8,868.9L439.1,869.2L442.7,869.5L446.6,869.8L450.7,870.0L455.1,870.3L459.7,870.5L464.6,870.8L469.6,871.0L474.9,871.2L480.3,871.4L485.9,871.5L491.6,871.7L497.5,871.8L503.5,871.9L509.6,872.0L515.7,872.1L522.0,872.2L528.3,872.2L534.6,872.2L541.0,872.3L547.4,872.2L553.7,872.2L560.0,872.2L566.3,872.1L572.4,872.0L578.5,871.9L584.5,871.8L590.4,871.7L596.1,871.5L601.7,871.4L607.1,871.2L612.4,871.0L617.4,870.8L622.3,870.5L626.9,870.3L631.3,870.0L635.4,869.8L639.3,869.5L642.9,869.2L646.2,868.9L649.2,868.6L652.0,868.3L654.4,868.0L656.5,867.6L658.3,867.3L659.8,867.0L661.0,866.6M364.4,840.5L365.6,841.0L367.3,841.5L369.5,842.0L372.1,842.5L375.2,843.0L378.8,843.4L382.8,843.9L387.2,844.3L392.1,844.8L397.4,845.2L403.0,845.6L409.1,846.0L415.5,846.4L422.2,846.7L429.3,847.0L436.6,847.4L444.3,847.6L452.2,847.9L460.4,848.2L468.8,848.4L477.4,848.6L486.1,848.7L495.0,848.9L504.1,849.0L513.2,849.1L522.4,849.2L531.7,849.2L541.0,849.2L550.3,849.2L559.6,849.2L568.8,849.1L577.9,849.0L587.0,848.9L595.9,848.7L604.6,848.6L613.2,848.4L621.6,848.2L629.8,847.9L637.7,847.6L645.4,847.4L652.7,847.0L659.8,846.7L666.5,846.4L672.9,846.0L679.0,845.6L684.6,845.2L689.9,844.8L694.8,844.3L699.2,843.9L703.2,843.4L706.8,843.0L709.9,842.5L712.5,842.0L714.7,841.5L716.4,841.0L717.6,840.5M314.0,805.3L315.6,806.0L317.7,806.6L320.5,807.3L323.9,807.9L327.9,808.5L332.5,809.1L337.6,809.7L343.3,810.3L349.6,810.8L356.3,811.4L363.6,811.9L371.4,812.4L379.6,812.9L388.3,813.3L397.4,813.8L406.8,814.2L416.7,814.5L426.9,814.9L437.4,815.2L448.2,815.5L459.2,815.7L470.5,815.9L481.9,816.1L493.5,816.3L505.3,816.4L517.1,816.5L529.1,816.5L541.0,816.6L552.9,816.5L564.9,816.5L576.7,816.4L588.5,816.3L600.1,816.1L611.5,815.9L622.8,815.7L633.8,815.5L644.6,815.2L655.1,814.9L665.3,814.5L675.2,814.2L684.6,813.8L693.7,813.3L702.4,812.9L710.6,812.4L718.4,811.9L725.7,811.4L732.4,810.8L738.7,810.3L744.4,809.7L749.5,809.1L754.1,808.5L758.1,807.9L761.5,807.3L764.3,806.6L766.4,806.0L768.0,805.3M269.4,761.1L270.5,761.9L272.3,762.6L274.9,763.4L278.2,764.2L282.3,764.9L287.0,765.7L292.5,766.4L298.6,767.1L305.4,767.8L312.9,768.5L320.9,769.1L329.6,769.7L338.8,770.3L348.7,770.9L359.0,771.4L369.8,771.9L381.1,772.4L392.8,772.8L405.0,773.3L417.5,773.6L430.4,774.0L443.5,774.3L456.9,774.5L470.6,774.7L484.4,774.9L498.4,775.1L512.6,775.2L526.8,775.2L541.0,775.3L555.2,775.2L569.4,775.2L583.6,775.1L597.6,774.9L611.4,774.7L625.1,774.5L638.5,774.3L651.6,774.0L664.5,773.6L677.0,773.3L689.2,772.8L700.9,772.4L712.2,771.9L723.0,771.4L733.3,770.9L743.2,770.3L752.4,769.7L761.1,769.1L769.1,768.5L776.6,767.8L783.4,767.1L789.5,766.4L795.0,765.7L799.7,764.9L803.8,764.2L807.1,763.4L809.7,762.6L811.5,761.9L812.6,761.1M233.9,710.6L235.2,711.4L237.3,712.3L240.2,713.2L244.0,714.1L248.5,714.9L253.9,715.7L260.1,716.6L267.0,717.4L274.7,718.1L283.1,718.9L292.2,719.6L302.0,720.3L312.5,721.0L323.5,721.6L335.2,722.2L347.5,722.8L360.2,723.4L373.5,723.9L387.2,724.3L401.4,724.7L415.9,725.1L430.8,725.5L446.0,725.8L461.4,726.0L477.1,726.2L492.9,726.4L508.9,726.5L524.9,726.6L541.0,726.6L557.1,726.6L573.1,726.5L589.1,726.4L604.9,726.2L620.6,726.0L636.0,725.8L651.2,725.5L666.1,725.1L680.6,724.7L694.8,724.3L708.5,723.9L721.8,723.4L734.5,722.8L746.8,722.2L758.5,721.6L769.5,721.0L780.0,720.3L789.8,719.6L798.9,718.9L807.3,718.1L815.0,717.4L821.9,716.6L828.1,715.7L833.5,714.9L838.0,714.1L841.8,713.2L844.7,712.3L846.8,711.4L848.1,710.6M207.8,654.6L209.1,655.6L211.4,656.5L214.6,657.5L218.7,658.4L223.6,659.3L229.5,660.2L236.2,661.1L243.7,662.0L252.0,662.8L261.1,663.7L271.0,664.4L281.7,665.2L293.0,665.9L305.0,666.6L317.7,667.3L331.0,667.9L344.9,668.5L359.3,669.0L374.2,669.5L389.5,670.0L405.3,670.4L421.4,670.8L437.9,671.1L454.6,671.4L471.6,671.6L488.8,671.8L506.1,671.9L523.5,672.0L541.0,672.0L558.5,672.0L575.9,671.9L593.2,671.8L610.4,671.6L627.4,671.4L644.1,671.1L660.6,670.8L676.7,670.4L692.5,670.0L707.8,669.5L722.7,669.0L737.1,668.5L751.0,667.9L764.3,667.3L777.0,666.6L789.0,665.9L800.3,665.2L811.0,664.4L820.9,663.7L830.0,662.8L838.3,662.0L845.8,661.1L852.5,660.2L858.4,659.3L863.3,658.4L867.4,657.5L870.6,656.5L872.9,655.6L874.2,654.6M191.8,595.0L193.2,596.0L195.6,597.0L198.9,598.0L203.2,598.9L208.4,599.9L214.5,600.9L221.5,601.8L229.4,602.7L238.1,603.6L247.7,604.4L258.1,605.3L269.2,606.1L281.1,606.8L293.7,607.6L307.0,608.2L320.9,608.9L335.4,609.5L350.5,610.1L366.1,610.6L382.2,611.1L398.8,611.5L415.7,611.9L432.9,612.2L450.5,612.5L468.3,612.8L486.3,612.9L504.4,613.1L522.7,613.2L541.0,613.2L559.3,613.2L577.6,613.1L595.7,612.9L613.7,612.8L631.5,612.5L649.1,612.2L666.3,611.9L683.2,611.5L699.8,611.1L715.9,610.6L731.5,610.1L746.6,609.5L761.1,608.9L775.0,608.2L788.3,607.6L800.9,606.8L812.8,606.1L823.9,605.3L834.3,604.4L843.9,603.6L852.6,602.7L860.5,601.8L867.5,600.9L873.6,599.9L878.8,598.9L883.1,598.0L886.4,597.0L888.8,596.0L890.2,595.0M185.9,532.4L186.4,533.4L187.8,534.4L190.3,535.5L193.7,536.5L198.0,537.5L203.3,538.4L209.5,539.4L216.6,540.3L224.6,541.3L233.5,542.2L243.2,543.0L253.7,543.9L265.0,544.7L277.1,545.5L289.9,546.2L303.4,546.9L317.5,547.6L332.3,548.2L347.6,548.8L363.5,549.3L379.8,549.8L396.6,550.2L413.7,550.6L431.3,551.0L449.1,551.2L467.2,551.5L485.5,551.7L503.9,551.8L522.4,551.9L541.0,551.9L559.6,551.9L578.1,551.8L596.5,551.7L614.8,551.5L632.9,551.2L650.7,551.0L668.3,550.6L685.4,550.2L702.2,549.8L718.5,549.3L734.4,548.8L749.7,548.2L764.5,547.6L778.6,546.9L792.1,546.2L804.9,545.5L817.0,544.7L828.3,543.9L838.8,543.0L848.5,542.2L857.4,541.3L865.4,540.3L872.5,539.4L878.7,538.4L884.0,537.5L888.3,536.5L891.7,535.5L894.2,534.4L895.6,533.4L896.1,532.4M191.3,470.8L191.8,471.8L193.2,472.8L195.6,473.8L198.9,474.8L203.2,475.8L208.4,476.8L214.5,477.7L221.5,478.6L229.4,479.6L238.1,480.4L247.7,481.3L258.1,482.1L269.2,482.9L281.1,483.7L293.7,484.4L307.0,485.1L320.9,485.8L335.4,486.4L350.5,486.9L366.1,487.5L382.2,488.0L398.8,488.4L415.7,488.8L432.9,489.1L450.5,489.4L468.3,489.6L486.3,489.8L504.4,489.9L522.7,490.0L541.0,490.0L559.3,490.0L577.6,489.9L595.7,489.8L613.7,489.6L631.5,489.4L649.1,489.1L666.3,488.8L683.2,488.4L699.8,488.0L715.9,487.5L731.5,486.9L746.6,486.4L761.1,485.8L775.0,485.1L788.3,484.4L800.9,483.7L812.8,482.9L823.9,482.1L834.3,481.3L843.9,480.4L852.6,479.6L860.5,478.6L867.5,477.7L873.6,476.8L878.8,475.8L883.1,474.8L886.4,473.8L888.8,472.8L890.2,471.8L890.7,470.8M207.3,411.1L207.8,412.1L209.1,413.0L211.4,414.0L214.6,414.9L218.7,415.9L223.6,416.8L229.5,417.7L236.2,418.6L243.7,419.5L252.0,420.3L261.1,421.1L271.0,421.9L281.7,422.7L293.0,423.4L305.0,424.1L317.7,424.8L331.0,425.4L344.9,426.0L359.3,426.5L374.2,427.0L389.5,427.5L405.3,427.9L421.4,428.3L437.9,428.6L454.6,428.8L471.6,429.1L488.8,429.2L506.1,429.4L523.5,429.4L541.0,429.5L558.5,429.4L575.9,429.4L593.2,429.2L610.4,429.1L627.4,428.8L644.1,428.6L660.6,428.3L676.7,427.9L692.5,427.5L707.8,427.0L722.7,426.5L737.1,426.0L751.0,425.4L764.3,424.8L777.0,424.1L789.0,423.4L800.3,422.7L811.0,421.9L820.9,421.1L830.0,420.3L838.3,419.5L845.8,418.6L852.5,417.7L858.4,416.8L863.3,415.9L867.4,414.9L870.6,414.0L872.9,413.0L874.2,412.1L874.7,411.1M233.5,355.1L233.9,356.0L235.2,356.9L237.3,357.8L240.2,358.6L244.0,359.5L248.5,360.3L253.9,361.2L260.1,362.0L267.0,362.8L274.7,363.6L283.1,364.3L292.2,365.1L302.0,365.8L312.5,366.4L323.5,367.1L335.2,367.7L347.5,368.3L360.2,368.8L373.5,369.3L387.2,369.8L401.4,370.2L415.9,370.6L430.8,370.9L446.0,371.2L461.4,371.4L477.1,371.6L492.9,371.8L508.9,371.9L524.9,372.0L541.0,372.0L557.1,372.0L573.1,371.9L589.1,371.8L604.9,371.6L620.6,371.4L636.0,371.2L651.2,370.9L666.1,370.6L680.6,370.2L694.8,369.8L708.5,369.3L721.8,368.8L734.5,368.3L746.8,367.7L758.5,367.1L769.5,366.4L780.0,365.8L789.8,365.1L798.9,364.3L807.3,363.6L815.0,362.8L821.9,362.0L828.1,361.2L833.5,360.3L838.0,359.5L841.8,358.6L844.7,357.8L846.8,356.9L848.1,356.0L848.5,355.1M269.0,304.5L269.4,305.3L270.5,306.1L272.3,306.8L274.9,307.6L278.2,308.4L282.3,309.1L287.0,309.8L292.5,310.6L298.6,311.3L305.4,312.0L312.9,312.6L320.9,313.3L329.6,313.9L338.8,314.5L348.7,315.1L359.0,315.6L369.8,316.1L381.1,316.6L392.8,317.0L405.0,317.4L417.5,317.8L430.4,318.1L443.5,318.4L456.9,318.7L470.6,318.9L484.4,319.1L498.4,319.3L512.6,319.4L526.8,319.4L541.0,319.4L555.2,319.4L569.4,319.4L583.6,319.3L597.6,319.1L611.4,318.9L625.1,318.7L638.5,318.4L651.6,318.1L664.5,317.8L677.0,317.4L689.2,317.0L700.9,316.6L712.2,316.1L723.0,315.6L733.3,315.1L743.2,314.5L752.4,313.9L761.1,313.3L769.1,312.6L776.6,312.0L783.4,311.3L789.5,310.6L795.0,309.8L799.7,309.1L803.8,308.4L807.1,307.6L809.7,306.8L811.5,306.1L812.6,305.3L813.0,304.5M313.1,260.1L312.7,260.8L313.1,261.4L314.0,262.1L315.6,262.8L317.7,263.4L320.5,264.0L323.9,264.7L327.9,265.3L332.5,265.9L337.6,266.5L343.3,267.1L349.6,267.6L356.3,268.2L363.6,268.7L371.4,269.2L379.6,269.7L388.3,270.1L397.4,270.5L406.8,270.9L416.7,271.3L426.9,271.7L437.4,272.0L448.2,272.2L459.2,272.5L470.5,272.7L481.9,272.9L493.5,273.1L505.3,273.2L517.1,273.3L529.1,273.3L541.0,273.3L552.9,273.3L564.9,273.3L576.7,273.2L588.5,273.1L600.1,272.9L611.5,272.7L622.8,272.5L633.8,272.2L644.6,272.0L655.1,271.7L665.3,271.3L675.2,270.9L684.6,270.5L693.7,270.1L702.4,269.7L710.6,269.2L718.4,268.7L725.7,268.2L732.4,267.6L738.7,267.1L744.4,266.5L749.5,265.9L754.1,265.3L758.1,264.7L761.5,264.0L764.3,263.4L766.4,262.8L768.0,262.1L768.9,261.4L769.3,260.8L768.9,260.1M363.7,224.8L363.4,225.3L363.7,225.8L364.4,226.4L365.6,226.9L367.3,227.4L369.5,227.9L372.1,228.4L375.2,228.8L378.8,229.3L382.8,229.8L387.2,230.2L392.1,230.7L397.4,231.1L403.0,231.5L409.1,231.9L415.5,232.2L422.2,232.6L429.3,232.9L436.6,233.2L444.3,233.5L452.2,233.8L460.4,234.0L468.8,234.3L477.4,234.4L486.1,234.6L495.0,234.8L504.1,234.9L513.2,235.0L522.4,235.0L531.7,235.1L541.0,235.1L550.3,235.1L559.6,235.0L568.8,235.0L577.9,234.9L587.0,234.8L595.9,234.6L604.6,234.4L613.2,234.3L621.6,234.0L629.8,233.8L637.7,233.5L645.4,233.2L652.7,232.9L659.8,232.6L666.5,232.2L672.9,231.9L679.0,231.5L684.6,231.1L689.9,230.7L694.8,230.2L699.2,229.8L703.2,229.3L706.8,228.8L709.9,228.4L712.5,227.9L714.7,227.4L716.4,226.9L717.6,226.4L718.3,225.8L718.6,225.3L718.3,224.8M420.2,198.5L419.7,198.9L419.5,199.2L419.7,199.6L420.2,199.9L421.0,200.3L422.2,200.6L423.7,200.9L425.5,201.3L427.6,201.6L430.0,201.9L432.8,202.2L435.8,202.6L439.1,202.9L442.7,203.1L446.6,203.4L450.7,203.7L455.1,203.9L459.7,204.2L464.6,204.4L469.6,204.6L474.9,204.8L480.3,205.0L485.9,205.2L491.6,205.3L497.5,205.4L503.5,205.6L509.6,205.7L515.7,205.7L522.0,205.8L528.3,205.9L534.6,205.9L541.0,205.9L547.4,205.9L553.7,205.9L560.0,205.8L566.3,205.7L572.4,205.7L578.5,205.6L584.5,205.4L590.4,205.3L596.1,205.2L601.7,205.0L607.1,204.8L612.4,204.6L617.4,204.4L622.3,204.2L626.9,203.9L631.3,203.7L635.4,203.4L639.3,203.1L642.9,202.9L646.2,202.6L649.2,202.2L652.0,201.9L654.4,201.6L656.5,201.3L658.3,200.9L659.8,200.6L661.0,200.3L661.8,199.9L662.3,199.6L662.5,199.2L662.3,198.9L661.8,198.5M482.4,182.2L481.4,182.3L480.7,182.5L480.1,182.7L479.7,182.9L479.4,183.0L479.3,183.2L479.4,183.4L479.7,183.6L480.1,183.8L480.7,183.9L481.4,184.1L482.4,184.3L483.4,184.4L484.7,184.6L486.1,184.8L487.6,184.9L489.3,185.1L491.1,185.2L493.1,185.4L495.2,185.5L497.4,185.6L499.7,185.7L502.2,185.9L504.8,186.0L507.4,186.1L510.2,186.2L513.0,186.2L515.9,186.3L518.9,186.4L521.9,186.4L525.0,186.5L528.2,186.5L531.4,186.6L534.6,186.6L537.8,186.6L541.0,186.6L544.2,186.6L547.4,186.6L550.6,186.6L553.8,186.5L557.0,186.5L560.1,186.4L563.1,186.4L566.1,186.3L569.0,186.2L571.8,186.2L574.6,186.1L577.2,186.0L579.8,185.9L582.3,185.7L584.6,185.6L586.8,185.5L588.9,185.4L590.9,185.2L592.7,185.1L594.4,184.9L595.9,184.8L597.3,184.6L598.6,184.4L599.6,184.3L600.6,184.1L601.3,183.9L601.9,183.8L602.3,183.6L602.6,183.4L602.7,183.2L602.6,183.0L602.3,182.9L601.9,182.7L601.3,182.5L600.6,182.3L599.6,182.2" stroke="#fff" stroke-opacity="0.6" stroke-width="1.7" fill="none"/>
<circle cx="541.00" cy="532.40" r="355.10" stroke="#fff" stroke-width="2.0" fill="none"/>
<path d="M541.50,141.6V168.4" stroke="#fff" stroke-width="3" fill="none"/>
<text x="558.8" y="157" font-size="20" fill="#fff">N</text>
<text x="143.9" y="168.0" font-size="20" fill="#fff">B0 = 3.15</text>
<text x="174.10" y="965.6" font-size="20" text-anchor="middle" fill="#000">-1000"</text>
<text x="122.6" y="906.05" font-size="20" text-anchor="end" fill="#000">-1000"</text>
<text x="357.55" y="965.6" font-size="20" text-anchor="middle" fill="#000">-500"</text>
<text x="122.6" y="722.75" font-size="20" text-anchor="end" fill="#000">-500"</text>
<text x="541.00" y="965.6" font-size="20" text-anchor="middle" fill="#000">0"</text>
<text x="122.6" y="539.45" font-size="20" text-anchor="end" fill="#000">0"</text>
<text x="724.45" y="965.6" font-size="20" text-anchor="middle" fill="#000">500"</text>
<text x="122.6" y="356.15" font-size="20" text-anchor="end" fill="#000">500"</text>
<text x="907.90" y="965.6" font-size="20" text-anchor="middle" fill="#000">1000"</text>
<text x="122.6" y="172.85" font-size="20" text-anchor="end" fill="#000">1000"</text>
<path d="M174.00,936.5v6.4M137.2,899.00h-6.2M357.00,936.5v6.4M137.2,716.00h-6.2M541.00,936.5v6.4M137.2,532.00h-6.2M724.00,936.5v6.4M137.2,349.00h-6.2M908.00,936.5v6.4M137.2,166.00h-6.2" stroke="#000" stroke-width="1.8" fill="none"/>
<text x="541.0" y="1005.4" font-size="28.1" text-anchor="middle" fill="#000">Helioprojective Longitude (Solar-X)</text>
<text transform="translate(34.9,533.4) rotate(-90)" font-size="28" text-anchor="middle" fill="#000">Helioprojective Latitude (Solar-Y)</text>
</g>
<g id="ax1">
<rect x="1150.0" y="128.0" width="808.0" height="808.7" fill="#000"/>
<clipPath id="clip1"><rect x="1150.0" y="128.0" width="808.0" height="808.7"/></clipPath>
<g clip-path="url(#bc1)"><g clip-path="url(#lc1)"><g clip-path="url(#dc1)"><g filter="url(#px1)">
<circle cx="1551.0" cy="530.4" r="352.5" fill="#979797"/>
<g filter="url(#b3)"><ellipse cx="1518.0" cy="192.0" rx="45.0" ry="12.0" transform="rotate(0 1518.0 192.0)" fill="#fff" fill-opacity="0.70"/><ellipse cx="1483.0" cy="198.0" rx="25.0" ry="10.0" transform="rotate(-15 1483.0 198.0)" fill="#fff" fill-opacity="0.45"/><ellipse cx="1558.0" cy="196.0" rx="25.0" ry="10.0" transform="rotate(8 1558.0 196.0)" fill="#fff" fill-opacity="0.30"/><ellipse cx="1358.0" cy="258.0" rx="40.0" ry="10.0" transform="rotate(-38 1358.0 258.0)" fill="#fff" fill-opacity="0.45"/><ellipse cx="1313.0" cy="298.0" rx="25.0" ry="9.0" transform="rotate(-48 1313.0 298.0)" fill="#fff" fill-opacity="0.30"/><ellipse cx="1413.0" cy="222.0" rx="35.0" ry="9.0" transform="rotate(-22 1413.0 222.0)" fill="#fff" fill-opacity="0.35"/><ellipse cx="1523.0" cy="260.0" rx="40.0" ry="60.0" transform="rotate(0 1523.0 260.0)" fill="#fff" fill-opacity="0.12"/><ellipse cx="1423.0" cy="660.0" rx="32.0" ry="42.0" transform="rotate(0 1423.0 660.0)" fill="#fff" fill-opacity="0.22"/><ellipse cx="1353.0" cy="440.0" rx="45.0" ry="55.0" transform="rotate(0 1353.0 440.0)" fill="#fff" fill-opacity="0.12"/><ellipse cx="1653.0" cy="300.0" rx="40.0" ry="30.0" transform="rotate(0 1653.0 300.0)" fill="#fff" fill-opacity="0.10"/><ellipse cx="1483.0" cy="350.0" rx="25.0" ry="40.0" transform="rotate(0 1483.0 350.0)" fill="#fff" fill-opacity="0.10"/><ellipse cx="1453.0" cy="740.0" rx="25.0" ry="30.0" transform="rotate(0 1453.0 740.0)" fill="#fff" fill-opacity="0.12"/><ellipse cx="1863.0" cy="520.0" rx="45.0" ry="200.0" transform="rotate(0 1863.0 520.0)" fill="#000" fill-opacity="0.12"/></g>
<g filter="url(#b4)"><circle cx="1551.0" cy="530.4" r="352.5" fill="#fff" fill-opacity="0.6" mask="url(#crb)"/></g>
<g filter="url(#b5)"><circle cx="1551.0" cy="530.4" r="352.5" fill="#fff" fill-opacity="0.22" mask="url(#crb2)"/></g>
<g filter="url(#b4)"><circle cx="1551.0" cy="530.4" r="352.5" fill="#000" fill-opacity="0.45" mask="url(#crd)"/></g>
<g clip-path="url(#dc1)"><rect x="1192" y="171" width="717" height="717" fill="#888" filter="url(#nz1)"/></g>
<g clip-path="url(#dc1)"><g mask="url(#lm)"><rect x="1192" y="171" width="717" height="717" fill="#888" filter="url(#nzl)"/></g></g>
<g filter="url(#b2)"><ellipse cx="1531.0" cy="390.0" rx="9.5" ry="8.5" transform="rotate(0 1531.0 390.0)" fill="#000" fill-opacity="0.97"/><ellipse cx="1544.0" cy="399.0" rx="9.5" ry="10.0" transform="rotate(0 1544.0 399.0)" fill="#000" fill-opacity="0.97"/><ellipse cx="1548.0" cy="381.0" rx="4.5" ry="6.0" transform="rotate(0 1548.0 381.0)" fill="#000" fill-opacity="0.95"/><ellipse cx="1537.0" cy="396.0" rx="19.0" ry="15.0" transform="rotate(30 1537.0 396.0)" fill="#000" fill-opacity="0.57"/><ellipse cx="1535.0" cy="400.0" rx="28.0" ry="24.0" transform="rotate(30 1535.0 400.0)" fill="#000" fill-opacity="0.27"/><ellipse cx="1558.0" cy="420.0" rx="8.0" ry="12.0" transform="rotate(-20 1558.0 420.0)" fill="#000" fill-opacity="0.30"/><ellipse cx="1525.0" cy="402.0" rx="9.0" ry="7.0" transform="rotate(0 1525.0 402.0)" fill="#000" fill-opacity="0.57"/><ellipse cx="1551.0" cy="412.0" rx="6.0" ry="8.0" transform="rotate(0 1551.0 412.0)" fill="#000" fill-opacity="0.47"/><ellipse cx="1518.0" cy="392.0" rx="6.0" ry="6.0" transform="rotate(0 1518.0 392.0)" fill="#000" fill-opacity="0.38"/><ellipse cx="1626.4" cy="438.3" rx="6.0" ry="5.0" transform="rotate(0 1626.4 438.3)" fill="#000" fill-opacity="0.80"/><ellipse cx="1584.0" cy="457.0" rx="10.0" ry="9.0" transform="rotate(0 1584.0 457.0)" fill="#000" fill-opacity="0.42"/><ellipse cx="1595.0" cy="479.0" rx="11.0" ry="8.0" transform="rotate(20 1595.0 479.0)" fill="#000" fill-opacity="0.47"/><ellipse cx="1549.0" cy="466.0" rx="6.0" ry="11.0" transform="rotate(0 1549.0 466.0)" fill="#000" fill-opacity="0.38"/><ellipse cx="1606.0" cy="496.0" rx="8.0" ry="7.0" transform="rotate(0 1606.0 496.0)" fill="#000" fill-opacity="0.38"/><ellipse cx="1575.0" cy="468.0" rx="32.0" ry="15.0" transform="rotate(35 1575.0 468.0)" fill="#000" fill-opacity="0.27"/><ellipse cx="1613.0" cy="483.0" rx="8.0" ry="5.0" transform="rotate(0 1613.0 483.0)" fill="#000" fill-opacity="0.38"/><ellipse cx="1569.0" cy="448.0" rx="6.0" ry="5.0" transform="rotate(0 1569.0 448.0)" fill="#000" fill-opacity="0.28"/><ellipse cx="1700.0" cy="501.0" rx="6.0" ry="6.5" transform="rotate(0 1700.0 501.0)" fill="#000" fill-opacity="0.72"/><ellipse cx="1533.7" cy="301.8" rx="4.0" ry="4.0" transform="rotate(0 1533.7 301.8)" fill="#000" fill-opacity="0.38"/><ellipse cx="1488.5" cy="360.5" rx="7.0" ry="4.0" transform="rotate(0 1488.5 360.5)" fill="#000" fill-opacity="0.28"/><ellipse cx="1671.0" cy="435.0" rx="4.0" ry="5.0" transform="rotate(0 1671.0 435.0)" fill="#000" fill-opacity="0.28"/><ellipse cx="1666.0" cy="482.0" rx="4.0" ry="4.0" transform="rotate(0 1666.0 482.0)" fill="#000" fill-opacity="0.28"/><ellipse cx="1370.4" cy="297.7" rx="12.0" ry="4.0" transform="rotate(40 1370.4 297.7)" fill="#000" fill-opacity="0.97"/><ellipse cx="1298.0" cy="382.3" rx="5.0" ry="4.0" transform="rotate(0 1298.0 382.3)" fill="#000" fill-opacity="0.66"/><ellipse cx="1320.0" cy="379.6" rx="5.0" ry="5.0" transform="rotate(0 1320.0 379.6)" fill="#000" fill-opacity="0.76"/><ellipse cx="1307.7" cy="386.0" rx="5.0" ry="3.5" transform="rotate(0 1307.7 386.0)" fill="#000" fill-opacity="0.66"/><ellipse cx="1335.0" cy="385.0" rx="5.0" ry="3.0" transform="rotate(0 1335.0 385.0)" fill="#000" fill-opacity="0.57"/><ellipse cx="1258.5" cy="379.6" rx="5.0" ry="5.0" transform="rotate(0 1258.5 379.6)" fill="#000" fill-opacity="0.38"/><ellipse cx="1294.0" cy="318.0" rx="5.0" ry="5.0" transform="rotate(0 1294.0 318.0)" fill="#000" fill-opacity="0.28"/><ellipse cx="1296.0" cy="447.0" rx="4.0" ry="20.0" transform="rotate(12 1296.0 447.0)" fill="#000" fill-opacity="0.42"/><ellipse cx="1594.5" cy="714.0" rx="13.0" ry="9.5" transform="rotate(8 1594.5 714.0)" fill="#000" fill-opacity="0.97"/><ellipse cx="1624.5" cy="715.0" rx="13.0" ry="9.0" transform="rotate(0 1624.5 715.0)" fill="#000" fill-opacity="0.97"/><ellipse cx="1624.0" cy="698.0" rx="6.0" ry="9.0" transform="rotate(0 1624.0 698.0)" fill="#000" fill-opacity="0.97"/><ellipse cx="1609.0" cy="721.0" rx="11.0" ry="6.0" transform="rotate(0 1609.0 721.0)" fill="#000" fill-opacity="0.97"/><ellipse cx="1639.0" cy="720.0" rx="7.0" ry="5.0" transform="rotate(0 1639.0 720.0)" fill="#000" fill-opacity="0.85"/><ellipse cx="1573.0" cy="733.0" rx="5.0" ry="8.0" transform="rotate(0 1573.0 733.0)" fill="#000" fill-opacity="0.80"/><ellipse cx="1583.0" cy="749.0" rx="9.0" ry="8.0" transform="rotate(0 1583.0 749.0)" fill="#000" fill-opacity="0.42"/><ellipse cx="1611.0" cy="747.0" rx="6.0" ry="4.0" transform="rotate(0 1611.0 747.0)" fill="#000" fill-opacity="0.38"/><ellipse cx="1649.0" cy="742.0" rx="5.0" ry="3.0" transform="rotate(0 1649.0 742.0)" fill="#000" fill-opacity="0.38"/><ellipse cx="1617.0" cy="760.0" rx="8.0" ry="5.0" transform="rotate(0 1617.0 760.0)" fill="#000" fill-opacity="0.34"/><ellipse cx="1608.0" cy="740.0" rx="32.0" ry="18.0" transform="rotate(0 1608.0 740.0)" fill="#000" fill-opacity="0.19"/><ellipse cx="1704.5" cy="819.0" rx="4.0" ry="4.5" transform="rotate(0 1704.5 819.0)" fill="#000" fill-opacity="0.72"/><ellipse cx="1454.4" cy="633.7" rx="5.0" ry="4.0" transform="rotate(0 1454.4 633.7)" fill="#000" fill-opacity="0.47"/><ellipse cx="1524.0" cy="639.0" rx="8.0" ry="6.0" transform="rotate(0 1524.0 639.0)" fill="#000" fill-opacity="0.47"/><ellipse cx="1567.8" cy="594.0" rx="5.0" ry="5.0" transform="rotate(0 1567.8 594.0)" fill="#000" fill-opacity="0.34"/><ellipse cx="1655.0" cy="611.9" rx="5.0" ry="3.0" transform="rotate(0 1655.0 611.9)" fill="#000" fill-opacity="0.66"/><ellipse cx="1682.0" cy="644.6" rx="6.0" ry="6.0" transform="rotate(0 1682.0 644.6)" fill="#000" fill-opacity="0.34"/><ellipse cx="1707.0" cy="646.0" rx="5.0" ry="5.0" transform="rotate(0 1707.0 646.0)" fill="#000" fill-opacity="0.34"/><ellipse cx="1636.0" cy="668.0" rx="12.0" ry="4.0" transform="rotate(0 1636.0 668.0)" fill="#000" fill-opacity="0.38"/><ellipse cx="1724.7" cy="681.5" rx="4.0" ry="4.0" transform="rotate(0 1724.7 681.5)" fill="#000" fill-opacity="0.66"/><ellipse cx="1713.8" cy="693.7" rx="4.0" ry="4.0" transform="rotate(0 1713.8 693.7)" fill="#000" fill-opacity="0.66"/><ellipse cx="1693.0" cy="702.0" rx="5.0" ry="4.0" transform="rotate(0 1693.0 702.0)" fill="#000" fill-opacity="0.34"/><ellipse cx="1513.0" cy="749.7" rx="5.0" ry="5.0" transform="rotate(0 1513.0 749.7)" fill="#000" fill-opacity="0.38"/><ellipse cx="1537.8" cy="755.0" rx="5.0" ry="5.0" transform="rotate(0 1537.8 755.0)" fill="#000" fill-opacity="0.34"/><ellipse cx="1510.0" cy="694.0" rx="6.0" ry="5.0" transform="rotate(0 1510.0 694.0)" fill="#000" fill-opacity="0.28"/><ellipse cx="1649.7" cy="743.0" rx="6.0" ry="4.0" transform="rotate(0 1649.7 743.0)" fill="#000" fill-opacity="0.28"/><ellipse cx="1842.2" cy="450.0" rx="4.5" ry="5.5" transform="rotate(0 1842.2 450.0)" fill="#000" fill-opacity="0.85"/><ellipse cx="1825.8" cy="337.0" rx="5.0" ry="5.0" transform="rotate(0 1825.8 337.0)" fill="#000" fill-opacity="0.38"/><ellipse cx="1881.0" cy="428.0" rx="6.0" ry="22.0" transform="rotate(-8 1881.0 428.0)" fill="#000" fill-opacity="0.66"/><ellipse cx="1241.0" cy="630.0" rx="5.0" ry="6.0" transform="rotate(0 1241.0 630.0)" fill="#000" fill-opacity="0.47"/><ellipse cx="1803.0" cy="318.0" rx="6.0" ry="5.0" transform="rotate(0 1803.0 318.0)" fill="#000" fill-opacity="0.38"/><ellipse cx="1350.5" cy="587.7" rx="6.0" ry="5.0" transform="rotate(0 1350.5 587.7)" fill="#000" fill-opacity="0.57"/><ellipse cx="1309.0" cy="649.0" rx="6.0" ry="4.0" transform="rotate(0 1309.0 649.0)" fill="#000" fill-opacity="0.38"/><ellipse cx="1482.0" cy="811.0" rx="5.0" ry="4.0" transform="rotate(0 1482.0 811.0)" fill="#000" fill-opacity="0.28"/><ellipse cx="1226.0" cy="566.0" rx="5.0" ry="5.0" transform="rotate(0 1226.0 566.0)" fill="#000" fill-opacity="0.28"/><ellipse cx="1687.0" cy="276.0" rx="5.0" ry="4.0" transform="rotate(0 1687.0 276.0)" fill="#000" fill-opacity="0.23"/><ellipse cx="1729.0" cy="309.0" rx="5.0" ry="4.0" transform="rotate(0 1729.0 309.0)" fill="#000" fill-opacity="0.23"/></g>
</g></g></g></g>
<path d="M1188.50,935.9V128.8M1150.8,899.50H1957.2M1371.50,935.9V128.8M1150.8,716.50H1957.2M1554.50,935.9V128.8M1150.8,532.50H1957.2M1737.50,935.9V128.8M1150.8,349.50H1957.2M1921.50,935.9V128.8M1150.8,166.50H1957.2" stroke="#fff" stroke-opacity="0.62" stroke-width="1" stroke-dasharray="1 1.65" fill="none"/>
<path d="M1198.9,532.4L1199.2,520.0L1199.8,507.7L1200.9,495.3L1202.4,483.1L1204.3,470.8L1206.7,458.7L1209.5,446.6L1212.7,434.7L1216.3,422.8L1220.4,411.1L1224.8,399.6L1229.7,388.2L1234.9,377.0L1240.5,365.9L1246.5,355.1L1252.9,344.5L1259.7,334.1L1266.8,324.0L1274.2,314.1L1282.0,304.5L1290.2,295.2L1298.6,286.1L1307.4,277.3L1316.4,268.9L1325.8,260.8L1335.4,253.0L1345.3,245.6L1355.5,238.5L1365.9,231.7L1376.5,225.3L1387.3,219.3L1398.4,213.7L1409.6,208.5L1421.0,203.7L1432.6,199.2L1444.3,195.2L1456.2,191.6L1468.1,188.4L1480.2,185.6L1492.4,183.2L1504.6,181.3L1516.9,179.8L1529.3,178.7L1541.7,178.1L1554.0,177.8M1446.0,870.7L1434.4,866.7L1423.0,862.4L1411.8,857.7L1400.7,852.6L1389.9,847.1L1379.2,841.2L1368.7,834.9L1358.5,828.2L1348.5,821.2L1338.7,813.9L1329.3,806.2L1320.1,798.2L1311.1,789.8L1302.5,781.1L1294.2,772.2L1286.2,762.9L1278.5,753.4L1271.1,743.5L1264.1,733.5L1257.5,723.2L1251.2,712.6L1245.3,701.8L1239.7,690.9L1234.6,679.7L1229.8,668.4L1225.4,656.9L1221.5,645.2L1217.9,633.4L1214.7,621.5L1212.0,609.4L1209.7,597.3L1207.7,585.1L1206.3,572.8L1205.2,560.5L1204.6,548.2L1204.3,535.8L1204.6,523.4L1205.2,511.0L1206.3,498.7L1207.7,486.4L1209.7,474.2L1212.0,462.0L1214.7,449.9L1217.9,437.9L1221.5,426.1L1225.4,414.3L1229.8,402.7L1234.6,391.3L1239.7,380.0L1245.3,368.9L1251.2,358.1L1257.5,347.4L1264.1,336.9L1271.1,326.7L1278.5,316.8L1286.2,307.1L1294.2,297.7L1302.5,288.5L1311.1,279.7L1320.1,271.2L1329.3,263.0L1338.7,255.1L1348.5,247.5L1358.5,240.3L1368.7,233.5L1379.2,227.0L1389.9,220.9L1400.7,215.2L1411.8,209.9L1423.0,204.9L1434.4,200.4L1446.0,196.2L1457.7,192.5L1469.4,189.2L1481.3,186.3L1493.3,183.8L1505.4,181.8L1517.5,180.1L1529.7,178.9L1541.8,178.2L1554.0,177.8M1496.1,882.7L1484.7,880.6L1473.3,878.0L1462.1,875.1L1450.9,871.7L1439.9,867.9L1429.0,863.6L1418.3,859.0L1407.8,854.0L1397.4,848.6L1387.2,842.8L1377.2,836.6L1367.5,830.1L1357.9,823.2L1348.6,815.9L1339.6,808.3L1330.8,800.4L1322.3,792.1L1314.0,783.5L1306.1,774.6L1298.4,765.4L1291.1,756.0L1284.1,746.2L1277.4,736.2L1271.1,725.9L1265.1,715.5L1259.4,704.8L1254.1,693.8L1249.2,682.7L1244.7,671.4L1240.5,659.9L1236.7,648.3L1233.3,636.5L1230.3,624.7L1227.7,612.6L1225.4,600.5L1223.6,588.4L1222.2,576.1L1221.2,563.8L1220.6,551.4L1220.4,539.1L1220.6,526.7L1221.2,514.3L1222.2,502.0L1223.6,489.7L1225.4,477.4L1227.7,465.2L1230.3,453.1L1233.3,441.1L1236.7,429.2L1240.5,417.4L1244.7,405.8L1249.2,394.3L1254.1,383.0L1259.4,371.8L1265.1,360.9L1271.1,350.2L1277.4,339.7L1284.1,329.4L1291.1,319.4L1298.4,309.6L1306.1,300.1L1314.0,290.9L1322.3,282.0L1330.8,273.4L1339.6,265.1L1348.6,257.1L1357.9,249.5L1367.5,242.2L1377.2,235.2L1387.2,228.7L1397.4,222.5L1407.8,216.6L1418.3,211.2L1429.0,206.2L1439.9,201.5L1450.9,197.3L1462.1,193.4L1473.3,190.0L1484.7,187.0L1496.1,184.4L1507.6,182.2L1519.2,180.5L1530.8,179.2L1542.4,178.3L1554.0,177.8M1511.3,884.9L1500.6,883.3L1490.1,881.2L1479.7,878.8L1469.3,875.9L1459.0,872.6L1448.9,868.9L1438.8,864.8L1429.0,860.3L1419.2,855.4L1409.7,850.0L1400.3,844.3L1391.1,838.3L1382.1,831.8L1373.3,825.0L1364.7,817.8L1356.4,810.3L1348.3,802.4L1340.4,794.2L1332.8,785.7L1325.5,776.9L1318.5,767.8L1311.7,758.4L1305.3,748.7L1299.1,738.8L1293.3,728.6L1287.7,718.1L1282.5,707.5L1277.6,696.6L1273.1,685.5L1268.9,674.3L1265.1,662.8L1261.6,651.2L1258.4,639.5L1255.7,627.6L1253.2,615.7L1251.2,603.6L1249.5,591.4L1248.2,579.2L1247.3,566.9L1246.7,554.5L1246.5,542.2L1246.7,529.8L1247.3,517.4L1248.2,505.0L1249.5,492.7L1251.2,480.4L1253.2,468.2L1255.7,456.1L1258.4,444.0L1261.6,432.1L1265.1,420.3L1268.9,408.6L1273.1,397.1L1277.6,385.7L1282.5,374.6L1287.7,363.6L1293.3,352.8L1299.1,342.2L1305.3,331.9L1311.7,321.8L1318.5,312.0L1325.5,302.4L1332.8,293.1L1340.4,284.1L1348.3,275.4L1356.4,267.1L1364.7,259.0L1373.3,251.3L1382.1,243.9L1391.1,236.9L1400.3,230.2L1409.7,223.9L1419.2,218.0L1429.0,212.5L1438.8,207.3L1448.9,202.6L1459.0,198.2L1469.3,194.3L1479.7,190.7L1490.1,187.6L1500.6,184.9L1511.3,182.6L1521.9,180.8L1532.6,179.4L1543.3,178.4L1554.0,177.8M1525.6,886.3L1516.2,885.3L1506.8,883.8L1497.5,881.8L1488.2,879.5L1479.1,876.7L1470.0,873.5L1461.0,869.9L1452.1,865.8L1443.4,861.4L1434.8,856.6L1426.3,851.3L1418.0,845.7L1409.9,839.7L1401.9,833.4L1394.2,826.6L1386.6,819.5L1379.2,812.1L1372.0,804.3L1365.1,796.2L1358.4,787.7L1351.9,779.0L1345.7,769.9L1339.7,760.6L1334.0,751.0L1328.5,741.1L1323.4,730.9L1318.5,720.5L1313.9,709.9L1309.6,699.1L1305.5,688.1L1301.8,676.9L1298.4,665.5L1295.3,653.9L1292.6,642.2L1290.1,630.3L1288.0,618.4L1286.2,606.3L1284.7,594.2L1283.5,581.9L1282.7,569.6L1282.2,557.3L1282.0,544.9L1282.2,532.6L1282.7,520.2L1283.5,507.8L1284.7,495.5L1286.2,483.2L1288.0,471.0L1290.1,458.8L1292.6,446.7L1295.3,434.8L1298.4,422.9L1301.8,411.2L1305.5,399.6L1309.6,388.2L1313.9,377.0L1318.5,366.0L1323.4,355.1L1328.5,344.5L1334.0,334.1L1339.7,324.0L1345.7,314.1L1351.9,304.5L1358.4,295.1L1365.1,286.1L1372.0,277.3L1379.2,268.9L1386.6,260.7L1394.2,252.9L1401.9,245.5L1409.9,238.4L1418.0,231.6L1426.3,225.2L1434.8,219.2L1443.4,213.6L1452.1,208.4L1461.0,203.5L1470.0,199.1L1479.1,195.0L1488.2,191.4L1497.5,188.2L1506.8,185.4L1516.2,183.0L1525.6,181.1L1535.1,179.6L1544.6,178.5L1554.0,177.8M1530.2,886.6L1522.3,885.6L1514.4,884.2L1506.6,882.3L1498.8,880.0L1491.1,877.3L1483.5,874.2L1476.0,870.7L1468.5,866.7L1461.2,862.4L1454.0,857.6L1446.9,852.5L1439.9,846.9L1433.1,841.0L1426.4,834.7L1419.9,828.0L1413.5,821.0L1407.3,813.6L1401.3,805.9L1395.5,797.8L1389.9,789.5L1384.4,780.8L1379.2,771.8L1374.2,762.5L1369.4,752.9L1364.8,743.1L1360.5,733.0L1356.4,722.6L1352.5,712.1L1348.9,701.3L1345.5,690.3L1342.4,679.1L1339.6,667.7L1337.0,656.2L1334.6,644.5L1332.6,632.7L1330.8,620.7L1329.3,608.7L1328.0,596.5L1327.0,584.3L1326.4,572.0L1325.9,559.7L1325.8,547.3L1325.9,535.0L1326.4,522.6L1327.0,510.2L1328.0,497.9L1329.3,485.6L1330.8,473.3L1332.6,461.1L1334.6,449.0L1337.0,437.0L1339.6,425.2L1342.4,413.4L1345.5,401.8L1348.9,390.4L1352.5,379.1L1356.4,368.1L1360.5,357.2L1364.8,346.5L1369.4,336.1L1374.2,325.9L1379.2,315.9L1384.4,306.3L1389.9,296.9L1395.5,287.7L1401.3,278.9L1407.3,270.4L1413.5,262.2L1419.9,254.3L1426.4,246.8L1433.1,239.6L1439.9,232.8L1446.9,226.4L1454.0,220.3L1461.2,214.6L1468.5,209.3L1476.0,204.3L1483.5,199.8L1491.1,195.7L1498.8,192.0L1506.6,188.7L1514.4,185.8L1522.3,183.4L1530.2,181.3L1538.1,179.7L1546.1,178.6L1554.0,177.8M1541.7,887.3L1535.5,886.8L1529.3,885.9L1523.2,884.5L1517.1,882.7L1511.1,880.5L1505.1,877.9L1499.2,874.8L1493.3,871.4L1487.5,867.5L1481.8,863.2L1476.2,858.5L1470.7,853.4L1465.3,847.9L1460.0,842.0L1454.8,835.8L1449.7,829.2L1444.7,822.2L1439.9,814.9L1435.2,807.2L1430.7,799.2L1426.3,790.9L1422.1,782.2L1418.0,773.3L1414.1,764.0L1410.4,754.5L1406.9,744.7L1403.5,734.6L1400.3,724.3L1397.3,713.8L1394.5,703.0L1391.9,692.1L1389.4,680.9L1387.2,669.5L1385.2,658.0L1383.4,646.4L1381.8,634.6L1380.4,622.6L1379.2,610.6L1378.2,598.5L1377.5,586.3L1376.9,574.0L1376.6,561.7L1376.5,549.3L1376.6,536.9L1376.9,524.5L1377.5,512.1L1378.2,499.8L1379.2,487.5L1380.4,475.2L1381.8,463.0L1383.4,450.9L1385.2,438.9L1387.2,427.0L1389.4,415.2L1391.9,403.6L1394.5,392.2L1397.3,380.9L1400.3,369.8L1403.5,358.8L1406.9,348.1L1410.4,337.7L1414.1,327.4L1418.0,317.4L1422.1,307.7L1426.3,298.3L1430.7,289.1L1435.2,280.2L1439.9,271.7L1444.7,263.4L1449.7,255.5L1454.8,247.9L1460.0,240.7L1465.3,233.8L1470.7,227.3L1476.2,221.1L1481.8,215.4L1487.5,210.0L1493.3,205.0L1499.2,200.4L1505.1,196.2L1511.1,192.5L1517.1,189.1L1523.2,186.2L1529.3,183.6L1535.5,181.5L1541.7,179.9L1547.9,178.6L1554.0,177.8M1545.6,887.4L1541.4,886.9L1537.1,886.1L1533.0,884.8L1528.8,883.0L1524.7,880.9L1520.6,878.3L1516.5,875.3L1512.5,871.9L1508.6,868.0L1504.7,863.8L1500.8,859.1L1497.0,854.1L1493.3,848.6L1489.7,842.8L1486.1,836.6L1482.7,830.0L1479.3,823.1L1476.0,815.8L1472.8,808.2L1469.7,800.2L1466.7,791.9L1463.8,783.3L1461.0,774.4L1458.3,765.1L1455.8,755.6L1453.4,745.9L1451.1,735.8L1448.9,725.6L1446.8,715.0L1444.9,704.3L1443.1,693.4L1441.4,682.2L1439.9,670.9L1438.5,659.4L1437.3,647.8L1436.2,636.0L1435.3,624.1L1434.4,612.0L1433.8,599.9L1433.3,587.7L1432.9,575.4L1432.7,563.1L1432.6,550.7L1432.7,538.4L1432.9,526.0L1433.3,513.6L1433.8,501.2L1434.4,488.9L1435.3,476.6L1436.2,464.4L1437.3,452.3L1438.5,440.3L1439.9,428.4L1441.4,416.6L1443.1,404.9L1444.9,393.4L1446.8,382.1L1448.9,371.0L1451.1,360.1L1453.4,349.3L1455.8,338.8L1458.3,328.6L1461.0,318.5L1463.8,308.8L1466.7,299.3L1469.7,290.1L1472.8,281.2L1476.0,272.6L1479.3,264.3L1482.7,256.3L1486.1,248.7L1489.7,241.4L1493.3,234.5L1497.0,227.9L1500.8,221.8L1504.7,215.9L1508.6,210.5L1512.5,205.5L1516.5,200.9L1520.6,196.6L1524.7,192.8L1528.8,189.4L1533.0,186.4L1537.1,183.8L1541.4,181.7L1545.6,180.0L1549.8,178.7L1554.0,177.8M1549.7,887.4L1547.6,887.0L1545.5,886.2L1543.3,884.9L1541.2,883.2L1539.1,881.1L1537.1,878.5L1535.0,875.5L1533.0,872.2L1531.0,868.3L1529.0,864.1L1527.0,859.5L1525.1,854.5L1523.2,849.1L1521.4,843.3L1519.6,837.1L1517.8,830.5L1516.1,823.6L1514.4,816.4L1512.8,808.8L1511.2,800.8L1509.7,792.5L1508.2,783.9L1506.8,775.0L1505.5,765.8L1504.2,756.4L1502.9,746.6L1501.8,736.6L1500.6,726.3L1499.6,715.8L1498.6,705.1L1497.7,694.2L1496.9,683.0L1496.1,671.7L1495.4,660.2L1494.8,648.6L1494.2,636.8L1493.7,624.9L1493.3,612.9L1493.0,600.8L1492.7,588.6L1492.5,576.3L1492.4,564.0L1492.4,551.6L1492.4,539.2L1492.5,526.8L1492.7,514.4L1493.0,502.1L1493.3,489.8L1493.7,477.5L1494.2,465.3L1494.8,453.1L1495.4,441.1L1496.1,429.2L1496.9,417.4L1497.7,405.7L1498.6,394.2L1499.6,382.9L1500.6,371.8L1501.8,360.8L1502.9,350.1L1504.2,339.5L1505.5,329.3L1506.8,319.2L1508.2,309.4L1509.7,299.9L1511.2,290.7L1512.8,281.8L1514.4,273.1L1516.1,264.8L1517.8,256.8L1519.6,249.2L1521.4,241.9L1523.2,234.9L1525.1,228.4L1527.0,222.1L1529.0,216.3L1531.0,210.9L1533.0,205.8L1535.0,201.1L1537.1,196.9L1539.1,193.0L1541.2,189.6L1543.3,186.6L1545.5,184.0L1547.6,181.8L1549.7,180.0L1551.9,178.7L1554.0,177.8M1554.0,887.5L1554.0,887.1L1554.0,886.2L1554.0,885.0L1554.0,883.3L1554.0,881.2L1554.0,878.6L1554.0,875.6L1554.0,872.3L1554.0,868.5L1554.0,864.2L1554.0,859.6L1554.0,854.6L1554.0,849.2L1554.0,843.4L1554.0,837.3L1554.0,830.7L1554.0,823.8L1554.0,816.6L1554.0,808.9L1554.0,801.0L1554.0,792.7L1554.0,784.2L1554.0,775.3L1554.0,766.1L1554.0,756.6L1554.0,746.8L1554.0,736.8L1554.0,726.6L1554.0,716.1L1554.0,705.4L1554.0,694.4L1554.0,683.3L1554.0,672.0L1554.0,660.5L1554.0,648.9L1554.0,637.1L1554.0,625.2L1554.0,613.2L1554.0,601.1L1554.0,588.9L1554.0,576.6L1554.0,564.3L1554.0,551.9L1554.0,539.5L1554.0,527.1L1554.0,514.7L1554.0,502.4L1554.0,490.0L1554.0,477.8L1554.0,465.6L1554.0,453.4L1554.0,441.4L1554.0,429.5L1554.0,417.7L1554.0,406.0L1554.0,394.5L1554.0,383.2L1554.0,372.0L1554.0,361.1L1554.0,350.3L1554.0,339.8L1554.0,329.5L1554.0,319.4L1554.0,309.7L1554.0,300.1L1554.0,290.9L1554.0,282.0L1554.0,273.3L1554.0,265.0L1554.0,257.0L1554.0,249.4L1554.0,242.1L1554.0,235.1L1554.0,228.5L1554.0,222.3L1554.0,216.4L1554.0,211.0L1554.0,205.9L1554.0,201.2L1554.0,197.0L1554.0,193.1L1554.0,189.6L1554.0,186.6L1554.0,184.0L1554.0,181.8L1554.0,180.1L1554.0,178.7L1554.0,177.8M1558.4,887.4L1560.5,887.0L1562.6,886.2L1564.8,884.9L1566.9,883.2L1569.0,881.1L1571.0,878.5L1573.1,875.5L1575.1,872.2L1577.1,868.3L1579.1,864.1L1581.1,859.5L1583.0,854.5L1584.9,849.1L1586.7,843.3L1588.5,837.1L1590.3,830.5L1592.0,823.6L1593.7,816.4L1595.3,808.8L1596.9,800.8L1598.4,792.5L1599.9,783.9L1601.3,775.0L1602.6,765.8L1603.9,756.4L1605.2,746.6L1606.3,736.6L1607.5,726.3L1608.5,715.8L1609.5,705.1L1610.4,694.2L1611.2,683.0L1612.0,671.7L1612.7,660.2L1613.3,648.6L1613.9,636.8L1614.4,624.9L1614.8,612.9L1615.1,600.8L1615.4,588.6L1615.6,576.3L1615.7,564.0L1615.7,551.6L1615.7,539.2L1615.6,526.8L1615.4,514.4L1615.1,502.1L1614.8,489.8L1614.4,477.5L1613.9,465.3L1613.3,453.1L1612.7,441.1L1612.0,429.2L1611.2,417.4L1610.4,405.7L1609.5,394.2L1608.5,382.9L1607.5,371.8L1606.3,360.8L1605.2,350.1L1603.9,339.5L1602.6,329.3L1601.3,319.2L1599.9,309.4L1598.4,299.9L1596.9,290.7L1595.3,281.8L1593.7,273.1L1592.0,264.8L1590.3,256.8L1588.5,249.2L1586.7,241.9L1584.9,234.9L1583.0,228.4L1581.1,222.1L1579.1,216.3L1577.1,210.9L1575.1,205.8L1573.1,201.1L1571.0,196.9L1569.0,193.0L1566.9,189.6L1564.8,186.6L1562.6,184.0L1560.5,181.8L1558.4,180.0L1556.2,178.7L1554.0,177.8M1562.5,887.4L1566.7,886.9L1571.0,886.1L1575.1,884.8L1579.3,883.0L1583.4,880.9L1587.5,878.3L1591.6,875.3L1595.6,871.9L1599.5,868.0L1603.4,863.8L1607.3,859.1L1611.1,854.1L1614.8,848.6L1618.4,842.8L1622.0,836.6L1625.4,830.0L1628.8,823.1L1632.1,815.8L1635.3,808.2L1638.4,800.2L1641.4,791.9L1644.3,783.3L1647.1,774.4L1649.8,765.1L1652.3,755.6L1654.7,745.9L1657.0,735.8L1659.2,725.6L1661.3,715.0L1663.2,704.3L1665.0,693.4L1666.7,682.2L1668.2,670.9L1669.6,659.4L1670.8,647.8L1671.9,636.0L1672.8,624.1L1673.7,612.0L1674.3,599.9L1674.8,587.7L1675.2,575.4L1675.4,563.1L1675.5,550.7L1675.4,538.4L1675.2,526.0L1674.8,513.6L1674.3,501.2L1673.7,488.9L1672.8,476.6L1671.9,464.4L1670.8,452.3L1669.6,440.3L1668.2,428.4L1666.7,416.6L1665.0,404.9L1663.2,393.4L1661.3,382.1L1659.2,371.0L1657.0,360.1L1654.7,349.3L1652.3,338.8L1649.8,328.6L1647.1,318.5L1644.3,308.8L1641.4,299.3L1638.4,290.1L1635.3,281.2L1632.1,272.6L1628.8,264.3L1625.4,256.3L1622.0,248.7L1618.4,241.4L1614.8,234.5L1611.1,227.9L1607.3,221.8L1603.4,215.9L1599.5,210.5L1595.6,205.5L1591.6,200.9L1587.5,196.6L1583.4,192.8L1579.3,189.4L1575.1,186.4L1571.0,183.8L1566.7,181.7L1562.5,180.0L1558.3,178.7L1554.0,177.8M1566.4,887.3L1572.6,886.8L1578.8,885.9L1584.9,884.5L1591.0,882.7L1597.0,880.5L1603.0,877.9L1608.9,874.8L1614.8,871.4L1620.6,867.5L1626.3,863.2L1631.9,858.5L1637.4,853.4L1642.8,847.9L1648.1,842.0L1653.3,835.8L1658.4,829.2L1663.4,822.2L1668.2,814.9L1672.9,807.2L1677.4,799.2L1681.8,790.9L1686.0,782.2L1690.1,773.3L1694.0,764.0L1697.7,754.5L1701.2,744.7L1704.6,734.6L1707.8,724.3L1710.8,713.8L1713.6,703.0L1716.2,692.1L1718.7,680.9L1720.9,669.5L1722.9,658.0L1724.7,646.4L1726.3,634.6L1727.7,622.6L1728.9,610.6L1729.9,598.5L1730.6,586.3L1731.2,574.0L1731.5,561.7L1731.6,549.3L1731.5,536.9L1731.2,524.5L1730.6,512.1L1729.9,499.8L1728.9,487.5L1727.7,475.2L1726.3,463.0L1724.7,450.9L1722.9,438.9L1720.9,427.0L1718.7,415.2L1716.2,403.6L1713.6,392.2L1710.8,380.9L1707.8,369.8L1704.6,358.8L1701.2,348.1L1697.7,337.7L1694.0,327.4L1690.1,317.4L1686.0,307.7L1681.8,298.3L1677.4,289.1L1672.9,280.2L1668.2,271.7L1663.4,263.4L1658.4,255.5L1653.3,247.9L1648.1,240.7L1642.8,233.8L1637.4,227.3L1631.9,221.1L1626.3,215.4L1620.6,210.0L1614.8,205.0L1608.9,200.4L1603.0,196.2L1597.0,192.5L1591.0,189.1L1584.9,186.2L1578.8,183.6L1572.6,181.5L1566.4,179.9L1560.2,178.6L1554.0,177.8M1577.9,886.6L1585.8,885.6L1593.7,884.2L1601.5,882.3L1609.3,880.0L1617.0,877.3L1624.6,874.2L1632.1,870.7L1639.6,866.7L1646.9,862.4L1654.1,857.6L1661.2,852.5L1668.2,846.9L1675.0,841.0L1681.7,834.7L1688.2,828.0L1694.6,821.0L1700.8,813.6L1706.8,805.9L1712.6,797.8L1718.2,789.5L1723.7,780.8L1728.9,771.8L1733.9,762.5L1738.7,752.9L1743.3,743.1L1747.6,733.0L1751.7,722.6L1755.6,712.1L1759.2,701.3L1762.6,690.3L1765.7,679.1L1768.5,667.7L1771.1,656.2L1773.5,644.5L1775.5,632.7L1777.3,620.7L1778.8,608.7L1780.1,596.5L1781.1,584.3L1781.7,572.0L1782.2,559.7L1782.3,547.3L1782.2,535.0L1781.7,522.6L1781.1,510.2L1780.1,497.9L1778.8,485.6L1777.3,473.3L1775.5,461.1L1773.5,449.0L1771.1,437.0L1768.5,425.2L1765.7,413.4L1762.6,401.8L1759.2,390.4L1755.6,379.1L1751.7,368.1L1747.6,357.2L1743.3,346.5L1738.7,336.1L1733.9,325.9L1728.9,315.9L1723.7,306.3L1718.2,296.9L1712.6,287.7L1706.8,278.9L1700.8,270.4L1694.6,262.2L1688.2,254.3L1681.7,246.8L1675.0,239.6L1668.2,232.8L1661.2,226.4L1654.1,220.3L1646.9,214.6L1639.6,209.3L1632.1,204.3L1624.6,199.8L1617.0,195.7L1609.3,192.0L1601.5,188.7L1593.7,185.8L1585.8,183.4L1577.9,181.3L1570.0,179.7L1562.0,178.6L1554.0,177.8M1582.5,886.3L1591.9,885.3L1601.3,883.8L1610.6,881.8L1619.9,879.5L1629.0,876.7L1638.1,873.5L1647.1,869.9L1656.0,865.8L1664.7,861.4L1673.3,856.6L1681.8,851.3L1690.1,845.7L1698.2,839.7L1706.2,833.4L1713.9,826.6L1721.5,819.5L1728.9,812.1L1736.1,804.3L1743.0,796.2L1749.7,787.7L1756.2,779.0L1762.4,769.9L1768.4,760.6L1774.1,751.0L1779.6,741.1L1784.7,730.9L1789.6,720.5L1794.2,709.9L1798.5,699.1L1802.6,688.1L1806.3,676.9L1809.7,665.5L1812.8,653.9L1815.5,642.2L1818.0,630.3L1820.1,618.4L1821.9,606.3L1823.4,594.2L1824.6,581.9L1825.4,569.6L1825.9,557.3L1826.1,544.9L1825.9,532.6L1825.4,520.2L1824.6,507.8L1823.4,495.5L1821.9,483.2L1820.1,471.0L1818.0,458.8L1815.5,446.7L1812.8,434.8L1809.7,422.9L1806.3,411.2L1802.6,399.6L1798.5,388.2L1794.2,377.0L1789.6,366.0L1784.7,355.1L1779.6,344.5L1774.1,334.1L1768.4,324.0L1762.4,314.1L1756.2,304.5L1749.7,295.1L1743.0,286.1L1736.1,277.3L1728.9,268.9L1721.5,260.7L1713.9,252.9L1706.2,245.5L1698.2,238.4L1690.1,231.6L1681.8,225.2L1673.3,219.2L1664.7,213.6L1656.0,208.4L1647.1,203.5L1638.1,199.1L1629.0,195.0L1619.9,191.4L1610.6,188.2L1601.3,185.4L1591.9,183.0L1582.5,181.1L1573.0,179.6L1563.5,178.5L1554.0,177.8M1596.8,884.9L1607.5,883.3L1618.0,881.2L1628.4,878.8L1638.8,875.9L1649.1,872.6L1659.2,868.9L1669.3,864.8L1679.1,860.3L1688.9,855.4L1698.4,850.0L1707.8,844.3L1717.0,838.3L1726.0,831.8L1734.8,825.0L1743.4,817.8L1751.7,810.3L1759.8,802.4L1767.7,794.2L1775.3,785.7L1782.6,776.9L1789.6,767.8L1796.4,758.4L1802.8,748.7L1809.0,738.8L1814.8,728.6L1820.4,718.1L1825.6,707.5L1830.5,696.6L1835.0,685.5L1839.2,674.3L1843.0,662.8L1846.5,651.2L1849.7,639.5L1852.4,627.6L1854.9,615.7L1856.9,603.6L1858.6,591.4L1859.9,579.2L1860.8,566.9L1861.4,554.5L1861.6,542.2L1861.4,529.8L1860.8,517.4L1859.9,505.0L1858.6,492.7L1856.9,480.4L1854.9,468.2L1852.4,456.1L1849.7,444.0L1846.5,432.1L1843.0,420.3L1839.2,408.6L1835.0,397.1L1830.5,385.7L1825.6,374.6L1820.4,363.6L1814.8,352.8L1809.0,342.2L1802.8,331.9L1796.4,321.8L1789.6,312.0L1782.6,302.4L1775.3,293.1L1767.7,284.1L1759.8,275.4L1751.7,267.1L1743.4,259.0L1734.8,251.3L1726.0,243.9L1717.0,236.9L1707.8,230.2L1698.4,223.9L1688.9,218.0L1679.1,212.5L1669.3,207.3L1659.2,202.6L1649.1,198.2L1638.8,194.3L1628.4,190.7L1618.0,187.6L1607.5,184.9L1596.8,182.6L1586.2,180.8L1575.5,179.4L1564.8,178.4L1554.0,177.8M1612.0,882.7L1623.4,880.6L1634.8,878.0L1646.0,875.1L1657.2,871.7L1668.2,867.9L1679.1,863.6L1689.8,859.0L1700.3,854.0L1710.7,848.6L1720.9,842.8L1730.9,836.6L1740.6,830.1L1750.2,823.2L1759.5,815.9L1768.5,808.3L1777.3,800.4L1785.8,792.1L1794.1,783.5L1802.0,774.6L1809.7,765.4L1817.0,756.0L1824.0,746.2L1830.7,736.2L1837.0,725.9L1843.0,715.5L1848.7,704.8L1854.0,693.8L1858.9,682.7L1863.4,671.4L1867.6,659.9L1871.4,648.3L1874.8,636.5L1877.8,624.7L1880.4,612.6L1882.7,600.5L1884.5,588.4L1885.9,576.1L1886.9,563.8L1887.5,551.4L1887.7,539.1L1887.5,526.7L1886.9,514.3L1885.9,502.0L1884.5,489.7L1882.7,477.4L1880.4,465.2L1877.8,453.1L1874.8,441.1L1871.4,429.2L1867.6,417.4L1863.4,405.8L1858.9,394.3L1854.0,383.0L1848.7,371.8L1843.0,360.9L1837.0,350.2L1830.7,339.7L1824.0,329.4L1817.0,319.4L1809.7,309.6L1802.0,300.1L1794.1,290.9L1785.8,282.0L1777.3,273.4L1768.5,265.1L1759.5,257.1L1750.2,249.5L1740.6,242.2L1730.9,235.2L1720.9,228.7L1710.7,222.5L1700.3,216.6L1689.8,211.2L1679.1,206.2L1668.2,201.5L1657.2,197.3L1646.0,193.4L1634.8,190.0L1623.4,187.0L1612.0,184.4L1600.5,182.2L1588.9,180.5L1577.3,179.2L1565.7,178.3L1554.0,177.8M1662.1,870.7L1673.7,866.7L1685.1,862.4L1696.3,857.7L1707.4,852.6L1718.2,847.1L1728.9,841.2L1739.4,834.9L1749.6,828.2L1759.6,821.2L1769.4,813.9L1778.8,806.2L1788.0,798.2L1797.0,789.8L1805.6,781.1L1813.9,772.2L1821.9,762.9L1829.6,753.4L1837.0,743.5L1844.0,733.5L1850.6,723.2L1856.9,712.6L1862.8,701.8L1868.4,690.9L1873.5,679.7L1878.3,668.4L1882.7,656.9L1886.6,645.2L1890.2,633.4L1893.4,621.5L1896.1,609.4L1898.4,597.3L1900.4,585.1L1901.8,572.8L1902.9,560.5L1903.5,548.2L1903.8,535.8L1903.5,523.4L1902.9,511.0L1901.8,498.7L1900.4,486.4L1898.4,474.2L1896.1,462.0L1893.4,449.9L1890.2,437.9L1886.6,426.1L1882.7,414.3L1878.3,402.7L1873.5,391.3L1868.4,380.0L1862.8,368.9L1856.9,358.1L1850.6,347.4L1844.0,336.9L1837.0,326.7L1829.6,316.8L1821.9,307.1L1813.9,297.7L1805.6,288.5L1797.0,279.7L1788.0,271.2L1778.8,263.0L1769.4,255.1L1759.6,247.5L1749.6,240.3L1739.4,233.5L1728.9,227.0L1718.2,220.9L1707.4,215.2L1696.3,209.9L1685.1,204.9L1673.7,200.4L1662.1,196.2L1650.4,192.5L1638.7,189.2L1626.8,186.3L1614.8,183.8L1602.7,181.8L1590.6,180.1L1578.4,178.9L1566.3,178.2L1554.0,177.8M1909.2,532.4L1908.9,520.0L1908.3,507.7L1907.2,495.3L1905.7,483.1L1903.8,470.8L1901.4,458.7L1898.6,446.6L1895.4,434.7L1891.8,422.8L1887.7,411.1L1883.3,399.6L1878.4,388.2L1873.2,377.0L1867.6,365.9L1861.6,355.1L1855.2,344.5L1848.4,334.1L1841.3,324.0L1833.9,314.1L1826.1,304.5L1817.9,295.2L1809.5,286.1L1800.7,277.3L1791.7,268.9L1782.3,260.8L1772.7,253.0L1762.8,245.6L1752.6,238.5L1742.2,231.7L1731.6,225.3L1720.8,219.3L1709.7,213.7L1698.5,208.5L1687.1,203.7L1675.5,199.2L1663.8,195.2L1651.9,191.6L1640.0,188.4L1627.9,185.6L1615.7,183.2L1603.5,181.3L1591.2,179.8L1578.8,178.7L1566.4,178.1L1554.0,177.8M1496.5,882.8L1497.7,883.0L1499.1,883.1L1500.6,883.3L1502.3,883.4L1504.2,883.6L1506.1,883.7L1508.2,883.8L1510.4,884.0L1512.8,884.1L1515.2,884.2L1517.8,884.3L1520.5,884.4L1523.2,884.5L1526.1,884.6L1529.0,884.7L1532.0,884.7L1535.0,884.8L1538.1,884.8L1541.2,884.9L1544.4,884.9L1547.6,884.9L1550.8,885.0L1554.0,885.0L1557.3,885.0L1560.5,884.9L1563.7,884.9L1566.9,884.9L1570.0,884.8L1573.1,884.8L1576.1,884.7L1579.1,884.7L1582.0,884.6L1584.9,884.5L1587.6,884.4L1590.3,884.3L1592.9,884.2L1595.3,884.1L1597.7,884.0L1599.9,883.8L1602.0,883.7L1603.9,883.6L1605.8,883.4L1607.5,883.3L1609.0,883.1L1610.4,883.0L1611.6,882.8M1434.1,866.6L1435.3,867.0L1436.7,867.3L1438.5,867.6L1440.7,868.0L1443.1,868.3L1445.8,868.6L1448.9,868.9L1452.2,869.2L1455.8,869.5L1459.7,869.8L1463.8,870.0L1468.2,870.3L1472.8,870.5L1477.6,870.8L1482.7,871.0L1487.9,871.2L1493.3,871.4L1498.9,871.5L1504.7,871.7L1510.5,871.8L1516.5,871.9L1522.6,872.0L1528.8,872.1L1535.1,872.2L1541.4,872.2L1547.7,872.2L1554.0,872.3L1560.4,872.2L1566.7,872.2L1573.0,872.2L1579.3,872.1L1585.5,872.0L1591.6,871.9L1597.6,871.8L1603.4,871.7L1609.2,871.5L1614.8,871.4L1620.2,871.2L1625.4,871.0L1630.5,870.8L1635.3,870.5L1639.9,870.3L1644.3,870.0L1648.4,869.8L1652.3,869.5L1655.9,869.2L1659.2,868.9L1662.3,868.6L1665.0,868.3L1667.4,868.0L1669.6,867.6L1671.4,867.3L1672.8,867.0L1674.0,866.6M1377.5,840.5L1378.7,841.0L1380.4,841.5L1382.5,842.0L1385.2,842.5L1388.3,843.0L1391.9,843.4L1395.9,843.9L1400.3,844.3L1405.1,844.8L1410.4,845.2L1416.1,845.6L1422.1,846.0L1428.5,846.4L1435.2,846.7L1442.3,847.0L1449.7,847.4L1457.3,847.6L1465.3,847.9L1473.4,848.2L1481.8,848.4L1490.4,848.6L1499.2,848.7L1508.1,848.9L1517.1,849.0L1526.3,849.1L1535.5,849.2L1544.8,849.2L1554.0,849.2L1563.3,849.2L1572.6,849.2L1581.8,849.1L1591.0,849.0L1600.0,848.9L1608.9,848.7L1617.7,848.6L1626.3,848.4L1634.7,848.2L1642.8,847.9L1650.8,847.6L1658.4,847.4L1665.8,847.0L1672.9,846.7L1679.6,846.4L1686.0,846.0L1692.0,845.6L1697.7,845.2L1703.0,844.8L1707.8,844.3L1712.2,843.9L1716.2,843.4L1719.8,843.0L1722.9,842.5L1725.6,842.0L1727.7,841.5L1729.4,841.0L1730.6,840.5M1327.0,805.3L1328.6,806.0L1330.8,806.6L1333.6,807.3L1337.0,807.9L1341.0,808.5L1345.5,809.1L1350.7,809.7L1356.4,810.3L1362.6,810.8L1369.4,811.4L1376.7,811.9L1384.4,812.4L1392.7,812.9L1401.3,813.3L1410.4,813.8L1419.9,814.2L1429.7,814.5L1439.9,814.9L1450.4,815.2L1461.2,815.5L1472.3,815.7L1483.5,815.9L1495.0,816.1L1506.6,816.3L1518.3,816.4L1530.2,816.5L1542.1,816.5L1554.0,816.6L1566.0,816.5L1577.9,816.5L1589.8,816.4L1601.5,816.3L1613.1,816.1L1624.6,815.9L1635.8,815.7L1646.9,815.5L1657.7,815.2L1668.2,814.9L1678.4,814.5L1688.2,814.2L1697.7,813.8L1706.8,813.3L1715.4,812.9L1723.7,812.4L1731.4,811.9L1738.7,811.4L1745.5,810.8L1751.7,810.3L1757.4,809.7L1762.6,809.1L1767.1,808.5L1771.1,807.9L1774.5,807.3L1777.3,806.6L1779.5,806.0L1781.1,805.3M1282.4,761.1L1283.5,761.9L1285.4,762.6L1288.0,763.4L1291.3,764.2L1295.3,764.9L1300.1,765.7L1305.5,766.4L1311.7,767.1L1318.5,767.8L1325.9,768.5L1334.0,769.1L1342.6,769.7L1351.9,770.3L1361.7,770.9L1372.0,771.4L1382.9,771.9L1394.2,772.4L1405.9,772.8L1418.0,773.3L1430.6,773.6L1443.4,774.0L1456.6,774.3L1470.0,774.5L1483.6,774.7L1497.5,774.9L1511.5,775.1L1525.6,775.2L1539.8,775.2L1554.0,775.3L1568.3,775.2L1582.5,775.2L1596.6,775.1L1610.6,774.9L1624.5,774.7L1638.1,774.5L1651.5,774.3L1664.7,774.0L1677.5,773.6L1690.1,773.3L1702.2,772.8L1713.9,772.4L1725.2,771.9L1736.1,771.4L1746.4,770.9L1756.2,770.3L1765.5,769.7L1774.1,769.1L1782.2,768.5L1789.6,767.8L1796.4,767.1L1802.6,766.4L1808.0,765.7L1812.8,764.9L1816.8,764.2L1820.1,763.4L1822.7,762.6L1824.6,761.9L1825.7,761.1M1246.9,710.6L1248.2,711.4L1250.3,712.3L1253.2,713.2L1257.0,714.1L1261.6,714.9L1267.0,715.7L1273.1,716.6L1280.0,717.4L1287.7,718.1L1296.1,718.9L1305.3,719.6L1315.1,720.3L1325.5,721.0L1336.6,721.6L1348.3,722.2L1360.5,722.8L1373.3,723.4L1386.6,723.9L1400.3,724.3L1414.4,724.7L1429.0,725.1L1443.8,725.5L1459.0,725.8L1474.5,726.0L1490.1,726.2L1505.9,726.4L1521.9,726.5L1538.0,726.6L1554.0,726.6L1570.1,726.6L1586.2,726.5L1602.2,726.4L1618.0,726.2L1633.6,726.0L1649.1,725.8L1664.3,725.5L1679.1,725.1L1693.7,724.7L1707.8,724.3L1721.5,723.9L1734.8,723.4L1747.6,722.8L1759.8,722.2L1771.5,721.6L1782.6,721.0L1793.0,720.3L1802.8,719.6L1812.0,718.9L1820.4,718.1L1828.1,717.4L1835.0,716.6L1841.1,715.7L1846.5,714.9L1851.1,714.1L1854.9,713.2L1857.8,712.3L1859.9,711.4L1861.2,710.6M1220.8,654.6L1222.2,655.6L1224.5,656.5L1227.7,657.5L1231.7,658.4L1236.7,659.3L1242.5,660.2L1249.2,661.1L1256.7,662.0L1265.1,662.8L1274.2,663.7L1284.1,664.4L1294.7,665.2L1306.1,665.9L1318.1,666.6L1330.8,667.3L1344.1,667.9L1357.9,668.5L1372.3,669.0L1387.2,669.5L1402.6,670.0L1418.3,670.4L1434.5,670.8L1450.9,671.1L1467.7,671.4L1484.7,671.6L1501.9,671.8L1519.2,671.9L1536.6,672.0L1554.0,672.0L1571.5,672.0L1588.9,671.9L1606.2,671.8L1623.4,671.6L1640.4,671.4L1657.2,671.1L1673.6,670.8L1689.8,670.4L1705.5,670.0L1720.9,669.5L1735.8,669.0L1750.2,668.5L1764.0,667.9L1777.3,667.3L1790.0,666.6L1802.0,665.9L1813.4,665.2L1824.0,664.4L1833.9,663.7L1843.0,662.8L1851.4,662.0L1858.9,661.1L1865.6,660.2L1871.4,659.3L1876.4,658.4L1880.4,657.5L1883.6,656.5L1885.9,655.6L1887.3,654.6M1204.8,595.0L1206.3,596.0L1208.7,597.0L1212.0,598.0L1216.3,598.9L1221.5,599.9L1227.6,600.9L1234.6,601.8L1242.5,602.7L1251.2,603.6L1260.8,604.4L1271.1,605.3L1282.3,606.1L1294.2,606.8L1306.8,607.6L1320.1,608.2L1334.0,608.9L1348.5,609.5L1363.6,610.1L1379.2,610.6L1395.3,611.1L1411.8,611.5L1428.7,611.9L1446.0,612.2L1463.5,612.5L1481.3,612.8L1499.3,612.9L1517.5,613.1L1535.7,613.2L1554.0,613.2L1572.4,613.2L1590.6,613.1L1608.8,612.9L1626.8,612.8L1644.6,612.5L1662.1,612.2L1679.4,611.9L1696.3,611.5L1712.8,611.1L1728.9,610.6L1744.5,610.1L1759.6,609.5L1774.1,608.9L1788.0,608.2L1801.3,607.6L1813.9,606.8L1825.8,606.1L1837.0,605.3L1847.3,604.4L1856.9,603.6L1865.6,602.7L1873.5,601.8L1880.5,600.9L1886.6,599.9L1891.8,598.9L1896.1,598.0L1899.4,597.0L1901.8,596.0L1903.3,595.0M1198.9,532.4L1199.4,533.4L1200.9,534.4L1203.3,535.5L1206.7,536.5L1211.0,537.5L1216.3,538.4L1222.5,539.4L1229.7,540.3L1237.7,541.3L1246.5,542.2L1256.2,543.0L1266.8,543.9L1278.1,544.7L1290.2,545.5L1303.0,546.2L1316.4,546.9L1330.6,547.6L1345.3,548.2L1360.6,548.8L1376.5,549.3L1392.8,549.8L1409.6,550.2L1426.8,550.6L1444.3,551.0L1462.1,551.2L1480.2,551.5L1498.5,551.7L1516.9,551.8L1535.5,551.9L1554.0,551.9L1572.6,551.9L1591.2,551.8L1609.6,551.7L1627.9,551.5L1646.0,551.2L1663.8,551.0L1681.3,550.6L1698.5,550.2L1715.3,549.8L1731.6,549.3L1747.5,548.8L1762.8,548.2L1777.5,547.6L1791.7,546.9L1805.1,546.2L1817.9,545.5L1830.0,544.7L1841.3,543.9L1851.9,543.0L1861.6,542.2L1870.4,541.3L1878.4,540.3L1885.6,539.4L1891.8,538.4L1897.1,537.5L1901.4,536.5L1904.8,535.5L1907.2,534.4L1908.7,533.4L1909.2,532.4M1204.3,470.8L1204.8,471.8L1206.3,472.8L1208.7,473.8L1212.0,474.8L1216.3,475.8L1221.5,476.8L1227.6,477.7L1234.6,478.6L1242.5,479.6L1251.2,480.4L1260.8,481.3L1271.1,482.1L1282.3,482.9L1294.2,483.7L1306.8,484.4L1320.1,485.1L1334.0,485.8L1348.5,486.4L1363.6,486.9L1379.2,487.5L1395.3,488.0L1411.8,488.4L1428.7,488.8L1446.0,489.1L1463.5,489.4L1481.3,489.6L1499.3,489.8L1517.5,489.9L1535.7,490.0L1554.0,490.0L1572.4,490.0L1590.6,489.9L1608.8,489.8L1626.8,489.6L1644.6,489.4L1662.1,489.1L1679.4,488.8L1696.3,488.4L1712.8,488.0L1728.9,487.5L1744.5,486.9L1759.6,486.4L1774.1,485.8L1788.0,485.1L1801.3,484.4L1813.9,483.7L1825.8,482.9L1837.0,482.1L1847.3,481.3L1856.9,480.4L1865.6,479.6L1873.5,478.6L1880.5,477.7L1886.6,476.8L1891.8,475.8L1896.1,474.8L1899.4,473.8L1901.8,472.8L1903.3,471.8L1903.8,470.8M1220.4,411.1L1220.8,412.1L1222.2,413.0L1224.5,414.0L1227.7,414.9L1231.7,415.9L1236.7,416.8L1242.5,417.7L1249.2,418.6L1256.7,419.5L1265.1,420.3L1274.2,421.1L1284.1,421.9L1294.7,422.7L1306.1,423.4L1318.1,424.1L1330.8,424.8L1344.1,425.4L1357.9,426.0L1372.3,426.5L1387.2,427.0L1402.6,427.5L1418.3,427.9L1434.5,428.3L1450.9,428.6L1467.7,428.8L1484.7,429.1L1501.9,429.2L1519.2,429.4L1536.6,429.4L1554.0,429.5L1571.5,429.4L1588.9,429.4L1606.2,429.2L1623.4,429.1L1640.4,428.8L1657.2,428.6L1673.6,428.3L1689.8,427.9L1705.5,427.5L1720.9,427.0L1735.8,426.5L1750.2,426.0L1764.0,425.4L1777.3,424.8L1790.0,424.1L1802.0,423.4L1813.4,422.7L1824.0,421.9L1833.9,421.1L1843.0,420.3L1851.4,419.5L1858.9,418.6L1865.6,417.7L1871.4,416.8L1876.4,415.9L1880.4,414.9L1883.6,414.0L1885.9,413.0L1887.3,412.1L1887.7,411.1M1246.5,355.1L1246.9,356.0L1248.2,356.9L1250.3,357.8L1253.2,358.6L1257.0,359.5L1261.6,360.3L1267.0,361.2L1273.1,362.0L1280.0,362.8L1287.7,363.6L1296.1,364.3L1305.3,365.1L1315.1,365.8L1325.5,366.4L1336.6,367.1L1348.3,367.7L1360.5,368.3L1373.3,368.8L1386.6,369.3L1400.3,369.8L1414.4,370.2L1429.0,370.6L1443.8,370.9L1459.0,371.2L1474.5,371.4L1490.1,371.6L1505.9,371.8L1521.9,371.9L1538.0,372.0L1554.0,372.0L1570.1,372.0L1586.2,371.9L1602.2,371.8L1618.0,371.6L1633.6,371.4L1649.1,371.2L1664.3,370.9L1679.1,370.6L1693.7,370.2L1707.8,369.8L1721.5,369.3L1734.8,368.8L1747.6,368.3L1759.8,367.7L1771.5,367.1L1782.6,366.4L1793.0,365.8L1802.8,365.1L1812.0,364.3L1820.4,363.6L1828.1,362.8L1835.0,362.0L1841.1,361.2L1846.5,360.3L1851.1,359.5L1854.9,358.6L1857.8,357.8L1859.9,356.9L1861.2,356.0L1861.6,355.1M1282.0,304.5L1282.4,305.3L1283.5,306.1L1285.4,306.8L1288.0,307.6L1291.3,308.4L1295.3,309.1L1300.1,309.8L1305.5,310.6L1311.7,311.3L1318.5,312.0L1325.9,312.6L1334.0,313.3L1342.6,313.9L1351.9,314.5L1361.7,315.1L1372.0,315.6L1382.9,316.1L1394.2,316.6L1405.9,317.0L1418.0,317.4L1430.6,317.8L1443.4,318.1L1456.6,318.4L1470.0,318.7L1483.6,318.9L1497.5,319.1L1511.5,319.3L1525.6,319.4L1539.8,319.4L1554.0,319.4L1568.3,319.4L1582.5,319.4L1596.6,319.3L1610.6,319.1L1624.5,318.9L1638.1,318.7L1651.5,318.4L1664.7,318.1L1677.5,317.8L1690.1,317.4L1702.2,317.0L1713.9,316.6L1725.2,316.1L1736.1,315.6L1746.4,315.1L1756.2,314.5L1765.5,313.9L1774.1,313.3L1782.2,312.6L1789.6,312.0L1796.4,311.3L1802.6,310.6L1808.0,309.8L1812.8,309.1L1816.8,308.4L1820.1,307.6L1822.7,306.8L1824.6,306.1L1825.7,305.3L1826.1,304.5M1326.1,260.1L1325.8,260.8L1326.1,261.4L1327.0,262.1L1328.6,262.8L1330.8,263.4L1333.6,264.0L1337.0,264.7L1341.0,265.3L1345.5,265.9L1350.7,266.5L1356.4,267.1L1362.6,267.6L1369.4,268.2L1376.7,268.7L1384.4,269.2L1392.7,269.7L1401.3,270.1L1410.4,270.5L1419.9,270.9L1429.7,271.3L1439.9,271.7L1450.4,272.0L1461.2,272.2L1472.3,272.5L1483.5,272.7L1495.0,272.9L1506.6,273.1L1518.3,273.2L1530.2,273.3L1542.1,273.3L1554.0,273.3L1566.0,273.3L1577.9,273.3L1589.8,273.2L1601.5,273.1L1613.1,272.9L1624.6,272.7L1635.8,272.5L1646.9,272.2L1657.7,272.0L1668.2,271.7L1678.4,271.3L1688.2,270.9L1697.7,270.5L1706.8,270.1L1715.4,269.7L1723.7,269.2L1731.4,268.7L1738.7,268.2L1745.5,267.6L1751.7,267.1L1757.4,266.5L1762.6,265.9L1767.1,265.3L1771.1,264.7L1774.5,264.0L1777.3,263.4L1779.5,262.8L1781.1,262.1L1782.0,261.4L1782.3,260.8L1782.0,260.1M1376.7,224.8L1376.5,225.3L1376.7,225.8L1377.5,226.4L1378.7,226.9L1380.4,227.4L1382.5,227.9L1385.2,228.4L1388.3,228.8L1391.9,229.3L1395.9,229.8L1400.3,230.2L1405.1,230.7L1410.4,231.1L1416.1,231.5L1422.1,231.9L1428.5,232.2L1435.2,232.6L1442.3,232.9L1449.7,233.2L1457.3,233.5L1465.3,233.8L1473.4,234.0L1481.8,234.3L1490.4,234.4L1499.2,234.6L1508.1,234.8L1517.1,234.9L1526.3,235.0L1535.5,235.0L1544.8,235.1L1554.0,235.1L1563.3,235.1L1572.6,235.0L1581.8,235.0L1591.0,234.9L1600.0,234.8L1608.9,234.6L1617.7,234.4L1626.3,234.3L1634.7,234.0L1642.8,233.8L1650.8,233.5L1658.4,233.2L1665.8,232.9L1672.9,232.6L1679.6,232.2L1686.0,231.9L1692.0,231.5L1697.7,231.1L1703.0,230.7L1707.8,230.2L1712.2,229.8L1716.2,229.3L1719.8,228.8L1722.9,228.4L1725.6,227.9L1727.7,227.4L1729.4,226.9L1730.6,226.4L1731.4,225.8L1731.6,225.3L1731.4,224.8M1433.3,198.5L1432.8,198.9L1432.6,199.2L1432.8,199.6L1433.3,199.9L1434.1,200.3L1435.3,200.6L1436.7,200.9L1438.5,201.3L1440.7,201.6L1443.1,201.9L1445.8,202.2L1448.9,202.6L1452.2,202.9L1455.8,203.1L1459.7,203.4L1463.8,203.7L1468.2,203.9L1472.8,204.2L1477.6,204.4L1482.7,204.6L1487.9,204.8L1493.3,205.0L1498.9,205.2L1504.7,205.3L1510.5,205.4L1516.5,205.6L1522.6,205.7L1528.8,205.7L1535.1,205.8L1541.4,205.9L1547.7,205.9L1554.0,205.9L1560.4,205.9L1566.7,205.9L1573.0,205.8L1579.3,205.7L1585.5,205.7L1591.6,205.6L1597.6,205.4L1603.4,205.3L1609.2,205.2L1614.8,205.0L1620.2,204.8L1625.4,204.6L1630.5,204.4L1635.3,204.2L1639.9,203.9L1644.3,203.7L1648.4,203.4L1652.3,203.1L1655.9,202.9L1659.2,202.6L1662.3,202.2L1665.0,201.9L1667.4,201.6L1669.6,201.3L1671.4,200.9L1672.8,200.6L1674.0,200.3L1674.8,199.9L1675.3,199.6L1675.5,199.2L1675.3,198.9L1674.8,198.5M1495.4,182.2L1494.5,182.3L1493.7,182.5L1493.1,182.7L1492.7,182.9L1492.5,183.0L1492.4,183.2L1492.5,183.4L1492.7,183.6L1493.1,183.8L1493.7,183.9L1494.5,184.1L1495.4,184.3L1496.5,184.4L1497.7,184.6L1499.1,184.8L1500.6,184.9L1502.3,185.1L1504.2,185.2L1506.1,185.4L1508.2,185.5L1510.4,185.6L1512.8,185.7L1515.2,185.9L1517.8,186.0L1520.5,186.1L1523.2,186.2L1526.1,186.2L1529.0,186.3L1532.0,186.4L1535.0,186.4L1538.1,186.5L1541.2,186.5L1544.4,186.6L1547.6,186.6L1550.8,186.6L1554.0,186.6L1557.3,186.6L1560.5,186.6L1563.7,186.6L1566.9,186.5L1570.0,186.5L1573.1,186.4L1576.1,186.4L1579.1,186.3L1582.0,186.2L1584.9,186.2L1587.6,186.1L1590.3,186.0L1592.9,185.9L1595.3,185.7L1597.7,185.6L1599.9,185.5L1602.0,185.4L1603.9,185.2L1605.8,185.1L1607.5,184.9L1609.0,184.8L1610.4,184.6L1611.6,184.4L1612.7,184.3L1613.6,184.1L1614.4,183.9L1615.0,183.8L1615.4,183.6L1615.6,183.4L1615.7,183.2L1615.6,183.0L1615.4,182.9L1615.0,182.7L1614.4,182.5L1613.6,182.3L1612.7,182.2" stroke="#fff" stroke-opacity="0.6" stroke-width="1.7" fill="none"/>
<circle cx="1554.05" cy="532.40" r="355.10" stroke="#fff" stroke-width="2.0" fill="none"/>
<path d="M1554.50,141.6V168.4" stroke="#fff" stroke-width="3" fill="none"/>
<text x="1571.8" y="157" font-size="20" fill="#fff">N</text>
<text x="1156.9" y="168.0" font-size="20" fill="#fff">B0 = 3.15</text>
<text x="1187.15" y="965.6" font-size="20" text-anchor="middle" fill="#000">-1000"</text>
<text x="1135.6" y="906.05" font-size="20" text-anchor="end" fill="#000">-1000"</text>
<text x="1370.60" y="965.6" font-size="20" text-anchor="middle" fill="#000">-500"</text>
<text x="1135.6" y="722.75" font-size="20" text-anchor="end" fill="#000">-500"</text>
<text x="1554.05" y="965.6" font-size="20" text-anchor="middle" fill="#000">0"</text>
<text x="1135.6" y="539.45" font-size="20" text-anchor="end" fill="#000">0"</text>
<text x="1737.50" y="965.6" font-size="20" text-anchor="middle" fill="#000">500"</text>
<text x="1135.6" y="356.15" font-size="20" text-anchor="end" fill="#000">500"</text>
<text x="1920.95" y="965.6" font-size="20" text-anchor="middle" fill="#000">1000"</text>
<text x="1135.6" y="172.85" font-size="20" text-anchor="end" fill="#000">1000"</text>
<path d="M1188.00,936.5v6.4M1150.2,899.00h-6.2M1371.00,936.5v6.4M1150.2,716.00h-6.2M1554.00,936.5v6.4M1150.2,532.00h-6.2M1737.00,936.5v6.4M1150.2,349.00h-6.2M1921.00,936.5v6.4M1150.2,166.00h-6.2" stroke="#000" stroke-width="1.8" fill="none"/>
<text x="1554.0" y="1005.4" font-size="28.1" text-anchor="middle" fill="#000">Helioprojective Longitude (Solar-X)</text>
<text transform="translate(1047.9,533.4) rotate(-90)" font-size="28" text-anchor="middle" fill="#000">Helioprojective Latitude (Solar-Y)</text>
</g>
</svg></body></html>
